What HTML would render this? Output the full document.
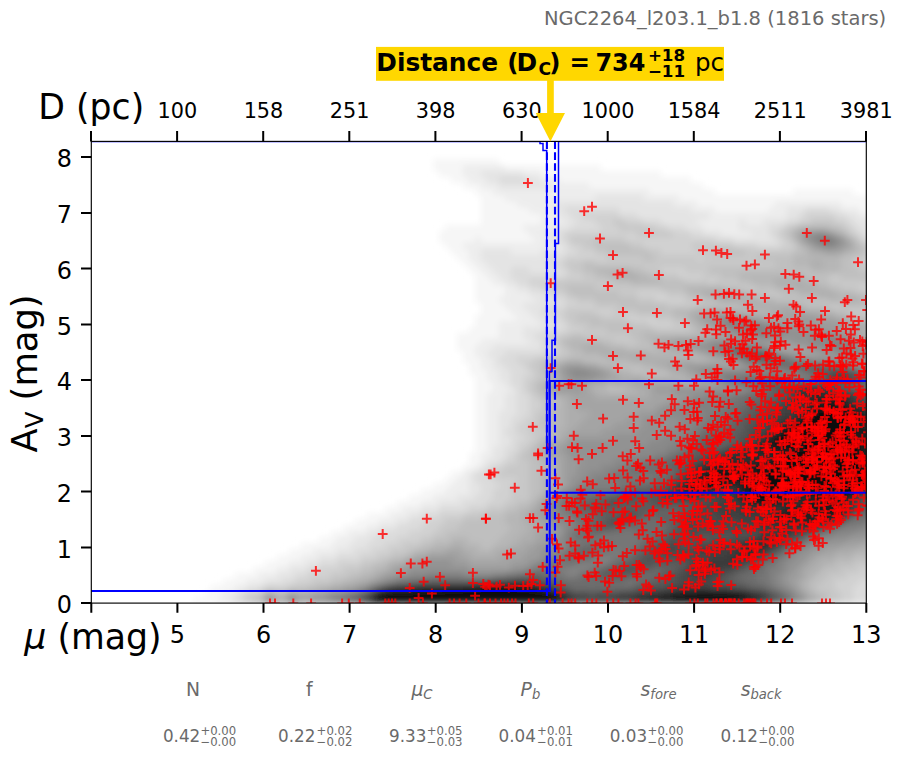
<!DOCTYPE html><html><head><meta charset="utf-8"><title>NGC2264 distance</title>
<style>html,body{margin:0;padding:0;background:#fff;overflow:hidden}svg{display:block}text{font-family:"DejaVu Sans","Liberation Sans",sans-serif;fill:#000}.g{fill:#6a6a6a}.i{font-style:italic}.b{font-weight:bold}</style></head><body>
<svg width="902" height="759" viewBox="0 0 902 759">
<rect width="902" height="759" fill="#fff"/>
<defs><clipPath id="ax"><rect x="91.3" y="141.4" width="775.0" height="461.70000000000005"/></clipPath></defs>
<defs><filter id="bl" x="-5%" y="-5%" width="110%" height="110%"><feGaussianBlur stdDeviation="3.2"/></filter></defs>
<g clip-path="url(#ax)"><g filter="url(#bl)" fill="none" stroke-width="6.4">
<path stroke="#f6f6f6" d="M433 162h66M433 168h30M505 168h96M439 174h24M541 174h120M451 180h18M559 180h132M463 186h18M589 186h114M475 192h18M649 192h66M793 192h60M481 198h24M679 198h192M481 204h36M697 204h78M841 204h30M481 210h48M715 210h54M859 210h12M481 216h60M481 222h60M445 228h78M439 234h90M439 240h36M481 240h54M445 246h18M451 252h18M457 258h12M463 264h12M469 270h12M475 276h12M475 282h18M475 288h30M475 294h30M475 300h24M481 306h24M481 312h30M475 318h42M475 324h24M469 330h30M457 336h42M457 342h24M457 348h18M463 354h12M463 360h18M469 366h12M469 372h18M475 378h12M475 384h18M475 390h18M475 396h12M475 402h12M475 408h12M475 414h12M475 420h12M475 426h12M475 432h12M475 438h12M475 444h12M475 450h12M469 456h12M469 462h12M463 468h12M451 474h12M445 480h12M433 486h18M421 492h24M409 498h24M397 504h24M385 510h18M367 516h24M355 522h24M343 528h24M331 534h18M319 540h18M301 546h30M289 552h24M277 558h24M265 564h24M253 570h24M235 576h24M223 582h24M211 588h24M205 594h18M193 600h24"/>
<path stroke="#ededed" d="M463 168h42M463 174h18M523 174h18M469 180h18M541 180h18M481 186h18M553 186h36M493 192h156M505 198h90M643 198h36M517 204h36M673 204h24M775 204h66M529 210h24M691 210h24M769 210h18M841 210h18M541 216h18M709 216h78M859 216h12M541 222h24M697 222h42M745 222h18M523 228h30M703 228h36M529 234h18M721 234h30M475 240h6M535 240h12M463 246h90M469 252h12M511 252h30M469 258h12M475 264h12M481 270h12M487 276h12M493 282h12M505 288h12M505 294h24M499 300h36M505 306h18M511 312h18M517 318h18M499 324h42M499 330h24M499 336h24M481 342h48M475 348h18M475 354h12M481 360h12M481 366h12M487 372h12M487 378h12M493 384h12M493 390h18M487 396h18M487 402h18M487 408h18M487 414h12M487 420h12M487 426h12M487 432h12M487 438h12M487 444h12M487 450h6M481 456h12M481 462h6M475 468h6M463 474h6M457 480h12M451 486h18M445 492h24M433 498h24M421 504h18M403 510h18M391 516h18M379 522h18M367 528h12M349 534h18M337 540h18M331 546h18M313 552h24M301 558h18M289 564h18M277 570h12M259 576h18M247 582h18M235 588h12M223 594h12M217 600h12"/>
<path stroke="#e4e4e4" d="M481 174h42M487 180h12M529 180h12M499 186h54M595 198h48M553 204h120M553 210h12M619 210h72M787 210h18M829 210h12M559 216h12M637 216h72M787 216h12M847 216h12M565 222h12M661 222h36M739 222h6M763 222h24M853 222h18M553 228h18M685 228h18M739 228h30M859 228h12M547 234h12M703 234h18M751 234h18M865 234h6M547 240h12M733 240h42M553 246h12M481 252h30M541 252h24M481 258h66M487 264h60M493 270h18M529 270h24M499 276h12M505 282h12M517 288h12M529 294h18M535 300h18M523 306h24M529 312h12M535 318h12M541 324h12M523 330h24M523 336h12M529 342h12M493 348h48M487 354h18M493 360h6M493 366h12M499 372h12M499 378h12M505 384h6M511 390h6M505 396h12M505 402h12M505 408h12M499 414h18M499 420h12M499 426h12M499 432h6M499 438h12M499 444h12M493 450h12M493 456h12M487 462h12M481 468h6M469 474h6M469 480h6M469 486h12M469 492h12M457 498h18M439 504h24M421 510h18M409 516h12M397 522h12M379 528h18M367 534h12M355 540h18M349 546h18M337 552h18M319 558h18M307 564h12M289 570h18M277 576h18M265 582h18M247 588h12M235 594h6M229 600h6"/>
<path stroke="#dbdbdb" d="M499 180h30M565 210h54M805 210h24M571 216h12M619 216h18M799 216h6M835 216h12M577 222h18M643 222h18M787 222h12M847 222h6M571 228h30M667 228h18M769 228h12M853 228h6M559 234h6M691 234h12M769 234h6M859 234h6M559 240h6M715 240h18M775 240h6M865 240h6M565 246h6M757 246h24M565 252h12M547 258h18M547 264h12M511 270h18M553 270h12M511 276h54M517 282h12M529 288h12M547 294h6M553 300h12M547 306h18M541 312h12M547 318h12M553 324h12M547 330h18M535 336h12M541 342h6M541 348h12M505 354h42M499 360h18M505 366h18M511 372h18M511 378h12M511 384h12M517 390h6M517 396h12M517 402h12M517 408h12M517 414h12M511 420h12M511 426h6M505 432h12M511 438h12M511 444h6M505 450h12M505 456h6M499 462h6M487 468h6M475 474h12M475 480h18M481 486h18M481 492h12M475 498h18M463 504h24M439 510h30M421 516h18M409 522h18M397 528h24M379 534h30M373 540h24M367 546h18M355 552h18M337 558h24M319 564h18M307 570h12M295 576h12M283 582h12M859 582h12M259 588h6M853 588h18M241 594h6M853 594h18M235 600h6M853 600h18"/>
<path stroke="#d1d1d1" d="M583 216h36M805 216h30M595 222h18M625 222h18M799 222h12M835 222h12M601 228h18M655 228h12M781 228h6M847 228h6M565 234h72M673 234h18M775 234h6M853 234h6M565 240h6M625 240h90M781 240h6M859 240h6M571 246h12M643 246h48M733 246h24M781 246h12M577 252h18M661 252h36M565 258h42M697 258h6M865 258h6M559 264h6M865 264h6M565 270h6M661 270h24M565 276h18M679 276h24M529 282h24M709 282h6M541 288h12M859 288h12M553 294h12M637 294h30M565 300h12M655 300h30M565 306h30M553 312h12M595 312h18M559 318h6M625 318h30M565 324h6M649 324h24M565 330h18M547 336h12M547 342h6M553 348h6M547 354h12M517 360h18M523 366h6M529 372h6M523 378h12M523 384h6M523 390h6M529 396h6M529 402h12M529 408h12M529 414h6M523 420h12M517 426h12M517 432h12M523 438h12M517 444h12M517 450h6M511 456h6M505 462h12M493 468h12M487 474h12M493 480h24M499 486h12M493 492h18M493 498h18M487 504h18M469 510h18M439 516h24M427 522h18M421 528h18M409 534h24M397 540h24M385 546h18M373 552h18M361 558h18M337 564h24M319 570h24M859 570h12M307 576h24M847 576h24M295 582h18M835 582h24M265 588h24M835 588h18M247 594h12M841 594h12M241 600h6M841 600h12"/>
<path stroke="#c8c8c8" d="M613 222h12M811 222h24M619 228h36M787 228h6M841 228h6M637 234h36M781 234h6M847 234h6M571 240h24M601 240h24M787 240h6M583 246h12M631 246h12M691 246h42M793 246h6M865 246h6M595 252h12M649 252h12M697 252h18M745 252h48M865 252h6M607 258h36M655 258h42M703 258h54M853 258h12M565 264h18M595 264h180M853 264h12M571 270h12M643 270h18M685 270h24M859 270h12M583 276h12M661 276h18M703 276h18M829 276h12M553 282h60M685 282h24M715 282h24M829 282h42M553 288h12M595 288h66M739 288h18M841 288h18M565 294h6M619 294h18M667 294h18M763 294h18M865 294h6M577 300h18M637 300h18M685 300h18M595 306h24M667 306h30M829 306h12M565 312h30M613 312h24M847 312h24M565 318h12M601 318h24M655 318h18M865 318h6M571 324h18M631 324h18M673 324h12M583 330h24M655 330h36M559 336h12M583 336h48M553 342h6M613 342h24M559 348h6M559 354h12M535 360h12M529 366h12M535 372h6M535 378h12M529 384h6M529 390h6M535 396h6M541 402h6M541 408h6M535 414h12M535 420h6M529 426h12M529 432h18M535 438h6M529 444h6M523 450h6M517 456h6M517 462h12M505 468h24M499 474h30M517 480h12M511 486h18M511 492h18M511 498h18M505 504h12M487 510h18M463 516h18M445 522h18M439 528h18M433 534h12M421 540h12M403 546h18M391 552h18M379 558h12M361 564h12M853 564h18M343 570h18M841 570h18M331 576h18M829 576h18M313 582h18M823 582h12M289 588h18M817 588h18M259 594h6M829 594h12M247 600h6M829 600h12"/>
<path stroke="#bfbfbf" d="M793 228h6M829 228h12M787 234h6M595 240h6M853 240h6M595 246h36M859 246h6M607 252h42M715 252h30M793 252h12M859 252h6M643 258h12M757 258h36M841 258h12M583 264h12M775 264h18M841 264h12M583 270h12M631 270h12M709 270h102M841 270h18M595 276h12M649 276h12M721 276h18M805 276h24M841 276h30M613 282h18M661 282h24M739 282h12M817 282h12M565 288h30M661 288h24M721 288h18M757 288h18M829 288h12M571 294h48M685 294h6M751 294h12M781 294h18M853 294h12M595 300h42M703 300h12M775 300h54M619 306h48M697 306h42M805 306h24M841 306h30M637 312h36M835 312h12M577 318h24M673 318h12M853 318h12M589 324h42M685 324h6M607 330h48M691 330h6M571 336h12M631 336h12M559 342h6M601 342h12M637 342h12M565 348h6M625 348h30M571 354h12M547 360h18M583 360h24M541 366h6M613 366h30M541 372h6M631 372h36M547 378h6M535 384h6M535 390h6M607 390h18M541 396h12M547 402h12M547 408h6M547 414h6M541 420h12M541 426h12M547 432h6M541 438h12M535 444h6M529 450h6M523 456h12M529 462h12M529 468h12M529 474h12M529 480h12M529 486h12M529 492h12M529 498h6M517 504h12M505 510h12M481 516h24M463 522h42M457 528h54M445 534h60M433 540h18M469 540h30M421 546h12M481 546h12M409 552h6M391 558h12M853 558h18M373 564h12M835 564h18M361 570h12M823 570h18M349 576h12M817 576h12M331 582h12M811 582h12M307 588h12M811 588h6M277 594h6M817 594h12M253 600h6M823 600h6"/>
<path stroke="#b6b6b6" d="M799 228h30M841 234h6M793 240h6M799 246h6M853 246h6M805 252h6M847 252h12M793 258h48M793 264h18M823 264h18M595 270h36M811 270h30M607 276h12M637 276h12M739 276h66M631 282h30M751 282h24M805 282h12M685 288h36M775 288h18M817 288h12M691 294h12M745 294h6M799 294h18M835 294h18M715 300h6M757 300h18M829 300h18M859 300h12M739 306h12M793 306h12M673 312h18M739 312h30M823 312h12M685 318h6M847 318h6M691 324h6M697 330h12M643 336h60M865 336h6M565 342h36M649 342h6M571 348h12M607 348h18M655 348h12M583 354h18M649 354h48M565 360h18M607 360h24M691 360h18M547 366h6M601 366h12M643 366h12M547 372h6M619 372h12M667 372h6M553 378h6M643 378h42M541 384h6M607 384h6M541 390h6M595 390h12M625 390h12M553 396h6M559 402h6M553 408h12M553 414h12M553 420h12M553 426h12M553 432h6M553 438h6M541 444h6M535 450h6M535 456h6M541 462h12M541 468h12M541 474h12M541 480h12M541 486h6M541 492h6M535 498h6M529 504h6M517 510h12M505 516h18M505 522h18M511 528h18M505 534h18M451 540h18M499 540h18M433 546h18M463 546h18M493 546h18M415 552h12M475 552h18M853 552h18M403 558h6M835 558h18M385 564h6M823 564h12M373 570h12M817 570h6M361 576h12M811 576h6M343 582h12M805 582h6M319 588h12M805 588h6M271 594h6M283 594h6M811 594h6M259 600h6M817 600h6"/>
<path stroke="#adadad" d="M793 234h6M835 234h6M847 240h6M805 246h6M811 252h12M841 252h6M811 264h12M619 276h18M775 282h30M793 288h24M703 294h12M733 294h12M817 294h18M721 300h36M847 300h12M751 306h42M691 312h18M721 312h18M769 312h12M805 312h18M691 318h6M763 318h12M835 318h12M697 324h6M853 324h18M709 330h6M859 330h12M703 336h12M859 336h6M655 342h6M583 348h24M667 348h6M781 348h6M601 354h48M697 354h6M631 360h60M709 360h12M553 366h6M595 366h6M655 366h12M553 372h6M613 372h6M673 372h12M619 378h24M685 378h12M547 384h6M589 384h18M613 384h18M679 384h18M547 390h6M589 390h6M637 390h12M559 396h12M595 396h54M565 402h6M565 408h12M565 414h24M565 420h18M565 426h12M559 432h12M559 438h6M547 444h6M541 450h6M541 456h12M553 462h6M553 468h6M553 474h6M553 480h6M547 486h12M547 492h6M541 498h6M535 504h6M529 510h6M523 516h6M523 522h12M529 528h12M523 534h12M517 540h18M451 546h12M511 546h12M859 546h12M427 552h18M463 552h12M493 552h12M835 552h18M409 558h6M469 558h30M817 558h18M391 564h12M811 564h12M385 570h6M805 570h12M373 576h6M805 576h6M355 582h12M799 582h6M331 588h12M799 588h6M265 594h6M295 594h18M805 594h6M277 600h6M811 600h6"/>
<path stroke="#a4a4a4" d="M799 234h6M799 240h6M847 246h6M823 252h18M715 294h18M709 312h12M781 312h24M697 318h6M751 318h12M775 318h24M817 318h18M703 324h6M841 324h12M715 330h6M841 330h18M715 336h12M853 336h6M661 342h12M865 342h6M673 348h12M775 348h6M787 348h18M703 354h6M799 354h18M721 360h6M559 366h6M583 366h12M667 366h18M721 366h18M865 366h6M607 372h6M685 372h6M559 378h6M607 378h12M697 378h6M553 384h12M583 384h6M631 384h48M697 384h18M583 390h6M649 390h6M571 396h24M649 396h24M571 402h96M577 408h78M589 414h48M583 420h42M577 426h36M571 432h30M565 438h6M553 444h12M547 450h12M553 456h12M559 462h6M559 468h6M559 474h6M559 480h6M559 486h6M553 492h6M535 510h6M529 516h12M535 522h12M541 528h12M535 534h12M535 540h12M865 540h6M523 546h12M841 546h18M445 552h18M505 552h24M823 552h12M415 558h12M457 558h12M499 558h24M811 558h6M403 564h6M469 564h42M805 564h6M391 570h6M799 570h6M379 576h6M799 576h6M367 582h6M793 582h6M343 588h12M289 594h6M313 594h12M283 600h6M301 600h6M805 600h6"/>
<path stroke="#9b9b9b" d="M829 234h6M841 240h6M811 246h6M841 246h6M703 318h12M745 318h6M799 318h18M709 324h6M775 324h66M721 330h6M823 330h18M727 336h12M847 336h6M673 342h36M751 342h42M859 342h6M685 348h12M769 348h6M805 348h6M865 348h6M709 354h6M787 354h12M817 354h18M727 360h6M859 360h6M565 366h18M685 366h36M739 366h6M559 372h6M601 372h6M691 372h6M565 378h6M595 378h12M703 378h6M565 384h18M715 384h6M553 390h30M655 390h18M673 396h18M667 402h12M655 408h6M637 414h18M625 420h18M613 426h30M601 432h36M571 438h42M565 444h6M559 450h6M565 456h6M565 462h18M565 468h12M565 474h12M565 480h6M565 486h6M547 498h6M541 504h6M541 510h6M541 516h6M547 522h6M553 528h6M547 534h12M547 540h6M847 540h18M535 546h12M823 546h18M529 552h12M811 552h12M427 558h30M523 558h18M805 558h6M409 564h12M451 564h18M511 564h18M799 564h6M397 570h12M469 570h42M793 570h6M385 576h12M787 576h12M373 582h6M787 582h6M355 588h6M793 588h6M325 594h6M799 594h6M271 600h6M295 600h6M307 600h6"/>
<path stroke="#929292" d="M805 234h12M823 234h6M805 240h6M817 246h6M835 246h6M715 318h6M733 318h12M715 324h6M763 324h12M727 330h6M787 330h36M739 336h18M781 336h30M835 336h12M709 342h42M793 342h18M853 342h6M697 348h12M763 348h6M811 348h12M859 348h6M715 354h6M781 354h6M835 354h6M733 360h6M811 360h30M847 360h12M865 360h6M745 366h12M859 366h6M565 372h6M589 372h12M697 372h6M571 378h24M709 378h6M721 384h6M673 390h72M691 396h12M679 402h6M661 408h12M655 414h12M643 420h36M643 426h36M637 432h30M613 438h48M571 444h78M565 450h72M571 456h54M583 462h30M577 468h24M577 474h12M571 480h12M571 486h6M559 492h6M553 498h6M547 504h6M547 510h6M547 516h6M553 522h6M559 528h6M559 534h6M853 534h18M553 540h6M829 540h18M547 546h6M811 546h12M541 552h12M799 552h12M541 558h6M793 558h12M421 564h30M529 564h6M787 564h12M409 570h60M511 570h12M787 570h6M397 576h12M781 576h6M379 582h6M781 582h6M361 588h6M787 588h6M331 594h12M793 594h6M313 600h12M799 600h6"/>
<path stroke="#898989" d="M817 234h6M811 240h6M835 240h6M823 246h12M721 318h12M721 324h6M757 324h6M733 330h6M775 330h12M757 336h24M811 336h24M811 342h18M841 342h12M709 348h6M757 348h6M823 348h12M853 348h6M721 354h6M775 354h6M841 354h30M739 360h6M799 360h12M841 360h6M757 366h6M853 366h6M571 372h18M703 372h84M865 372h6M715 378h6M727 384h6M745 390h6M703 396h6M685 402h6M673 408h12M667 414h36M679 420h18M679 426h12M667 432h18M661 438h18M649 444h24M637 450h30M625 456h30M613 462h18M601 468h18M589 474h18M583 480h12M577 486h6M565 492h6M553 504h6M553 510h6M553 516h6M559 522h12M565 528h6M859 528h12M835 534h18M559 540h6M817 540h12M553 546h12M805 546h6M553 552h6M793 552h6M547 558h6M787 558h6M535 564h6M781 564h6M523 570h6M571 570h6M781 570h6M409 576h18M463 576h30M775 576h6M385 582h6M775 582h6M781 588h6M343 594h6M265 600h6M325 600h6M793 600h6"/>
<path stroke="#808080" d="M817 240h6M829 240h6M727 324h30M739 330h36M829 342h12M715 348h6M751 348h6M835 348h18M793 360h6M763 366h6M847 366h6M787 372h12M721 378h6M787 378h24M733 384h6M751 390h6M709 396h24M691 402h36M685 408h36M703 414h12M697 420h12M691 426h12M685 432h12M679 438h12M673 444h12M667 450h12M655 456h12M631 462h12M619 468h6M607 474h6M595 480h18M583 486h36M571 492h6M559 498h6M559 510h6M559 516h12M571 522h6M865 522h6M571 528h6M841 528h18M565 534h6M823 534h12M565 540h6M811 540h6M565 546h6M799 546h6M559 552h6M613 552h6M787 552h6M553 558h6M595 558h18M781 558h6M541 564h6M577 564h30M775 564h6M529 570h6M559 570h12M577 570h12M769 570h12M427 576h36M493 576h12M565 576h12M769 576h6M391 582h6M769 582h6M367 588h6M775 588h6M349 594h6M787 594h6M289 600h6M331 600h6"/>
<path stroke="#767676" d="M823 240h6M721 348h12M745 348h6M727 354h6M769 354h6M745 360h6M787 360h6M769 366h12M841 366h6M799 372h6M859 372h6M727 378h18M751 378h12M775 378h12M811 378h6M739 384h6M757 390h6M865 390h6M733 396h12M727 402h12M721 408h12M715 414h12M709 420h12M703 426h12M697 432h6M691 438h6M685 444h6M679 450h6M667 456h6M643 462h12M625 468h6M613 474h48M613 480h42M619 486h12M577 492h36M565 498h6M559 504h6M565 510h6M571 516h6M577 522h6M847 522h18M577 528h6M625 528h6M835 528h6M571 534h6M601 534h36M817 534h6M571 540h72M805 540h6M571 546h12M613 546h24M565 552h6M601 552h12M619 552h12M559 558h6M589 558h6M613 558h12M775 558h6M547 564h30M607 564h6M763 564h12M535 570h24M589 570h6M763 570h6M505 576h12M553 576h12M577 576h6M757 576h12M397 582h12M625 582h12M757 582h12M769 588h6M355 594h6M781 594h6M337 600h6M787 600h6"/>
<path stroke="#6d6d6d" d="M733 348h12M733 354h6M751 360h6M781 360h6M781 366h18M823 366h18M805 372h6M745 378h6M763 378h12M745 384h12M763 390h6M859 390h6M745 396h18M739 402h12M733 408h12M727 414h12M721 420h12M715 426h12M703 432h12M697 438h6M685 450h6M673 456h6M655 462h12M631 468h36M661 474h12M655 480h12M631 486h18M613 492h6M571 498h24M565 504h12M571 510h6M577 516h18M649 516h6M853 516h18M583 522h6M637 522h24M583 528h6M619 528h6M631 528h36M829 528h6M577 534h24M637 534h24M643 540h12M583 546h30M637 546h6M793 546h6M571 552h6M595 552h6M631 552h6M781 552h6M565 558h24M625 558h6M613 564h6M595 570h6M655 570h6M751 570h12M517 576h12M541 576h12M583 576h12M637 576h18M739 576h18M409 582h12M559 582h66M637 582h6M745 582h12M373 588h6M571 588h60M763 588h6M343 600h6"/>
<path stroke="#646464" d="M739 354h6M763 354h6M757 360h12M775 360h6M799 366h24M811 372h6M853 372h6M817 378h6M865 378h6M757 384h6M799 384h6M853 384h18M769 390h6M853 390h6M763 396h12M751 402h12M745 408h6M739 414h6M733 420h6M727 426h12M715 432h18M703 438h6M721 438h12M691 444h12M715 444h12M691 450h6M679 456h12M667 462h12M667 468h12M673 474h6M667 480h6M649 486h12M619 492h12M595 498h12M577 504h12M577 510h12M613 510h6M655 510h24M865 510h6M595 516h12M643 516h6M655 516h24M589 522h12M631 522h6M661 522h12M841 522h6M589 528h6M613 528h6M667 528h6M661 534h6M811 534h6M655 540h6M799 540h6M643 546h6M787 546h6M577 552h18M637 552h6M631 558h6M769 558h6M619 564h6M757 564h6M601 570h6M643 570h12M661 570h12M745 570h6M529 576h12M595 576h6M625 576h12M655 576h6M733 576h6M421 582h54M553 582h6M643 582h12M733 582h12M565 588h6M631 588h6M751 588h12M361 594h6M775 594h6M349 600h6M781 600h6"/>
<path stroke="#5b5b5b" d="M745 354h18M769 360h6M817 372h12M847 372h6M823 378h6M859 378h6M763 384h36M805 384h18M835 384h18M775 390h6M841 390h12M775 396h12M763 402h12M751 408h12M745 414h12M739 420h12M739 426h6M733 432h12M709 438h12M733 438h6M703 444h12M727 444h12M697 450h24M691 456h12M679 462h12M679 468h6M661 486h6M631 492h24M607 498h12M637 498h12M589 504h18M619 504h36M667 504h24M865 504h6M589 510h24M619 510h36M679 510h12M859 510h6M607 516h12M637 516h6M601 522h6M673 522h6M595 528h18M673 528h6M823 528h6M667 534h6M805 534h6M661 540h6M703 540h6M793 540h6M649 546h6M781 546h6M643 552h6M775 552h6M637 558h6M763 558h6M625 564h12M655 564h30M751 564h6M607 570h12M637 570h6M673 570h6M739 570h6M601 576h24M661 576h6M727 576h6M475 582h12M541 582h12M655 582h12M721 582h12M379 588h6M559 588h6M637 588h12M745 588h6M589 594h6M769 594h6M355 600h6M775 600h6"/>
<path stroke="#525252" d="M829 372h18M853 378h6M823 384h12M781 390h6M835 390h6M787 396h6M859 396h12M775 402h6M763 408h12M757 414h12M751 420h12M745 426h12M745 432h6M739 438h12M739 444h6M721 450h6M703 456h6M691 462h6M685 468h6M679 474h6M673 480h6M667 486h6M655 492h12M619 498h18M649 498h12M703 498h6M859 498h12M607 504h12M655 504h12M691 504h12M859 504h6M691 510h6M619 516h18M679 516h12M847 516h6M607 522h24M679 522h6M835 522h6M679 528h6M715 528h6M673 534h18M697 534h60M799 534h6M667 540h36M709 540h24M787 540h6M655 546h12M679 546h18M649 552h12M769 552h6M643 558h42M637 564h18M685 564h6M745 564h6M619 570h18M679 570h6M733 570h6M667 576h12M721 576h6M487 582h6M535 582h6M667 582h12M715 582h6M553 588h6M649 588h18M733 588h12M367 594h6M571 594h18M595 594h24"/>
<path stroke="#494949" d="M829 378h6M847 378h6M787 390h6M781 402h6M859 402h12M775 408h6M769 414h12M763 420h6M757 426h12M751 432h12M751 438h6M745 444h6M727 450h6M709 456h6M697 462h6M691 468h6M685 474h6M679 480h6M865 492h6M661 498h6M697 498h6M709 498h12M703 504h12M697 510h18M853 510h6M691 516h30M685 522h54M685 528h30M721 528h36M817 528h6M691 534h6M757 534h6M793 534h6M733 540h18M667 546h12M697 546h18M775 546h6M661 552h36M685 558h24M757 558h6M691 564h6M739 564h6M685 570h6M721 570h12M679 576h12M709 576h12M493 582h18M523 582h12M679 582h36M385 588h6M667 588h12M709 588h24M619 594h18M763 594h6M361 600h6M769 600h6"/>
<path stroke="#404040" d="M835 378h12M793 390h6M829 390h6M793 396h6M853 396h6M787 402h6M853 402h6M781 408h12M781 414h12M769 420h12M769 426h6M763 432h6M757 438h6M751 444h6M733 450h6M715 456h6M703 462h6M673 486h6M667 492h6M715 492h18M667 498h30M721 498h12M853 498h6M715 504h24M853 504h6M715 510h24M721 516h36M739 522h18M757 528h18M811 528h6M763 534h12M787 534h6M751 540h6M781 540h6M715 546h24M697 552h36M763 552h6M709 558h18M751 558h6M697 564h12M733 564h6M691 570h6M715 570h6M691 576h18M511 582h12M391 588h6M547 588h6M679 588h30M565 594h6M637 594h12M757 594h6M577 600h36M763 600h6"/>
<path stroke="#373737" d="M823 390h6M799 396h12M847 396h6M793 402h12M847 402h6M793 408h12M859 408h12M793 414h6M781 420h12M775 426h6M769 432h6M763 438h6M739 450h6M721 456h6M709 462h6M697 468h6M691 474h6M685 480h6M679 486h6M673 492h6M709 492h6M733 492h6M859 492h6M733 498h6M739 504h6M787 504h12M847 504h6M739 510h42M847 510h6M757 516h12M841 516h6M757 522h6M829 522h6M775 528h36M775 534h12M757 540h6M775 540h6M739 546h6M769 546h6M733 552h6M757 552h6M727 558h24M709 564h24M697 570h18M397 588h18M541 588h6M559 594h6M649 594h12M751 594h6M571 600h6M613 600h18"/>
<path stroke="#2e2e2e" d="M799 390h24M811 396h36M805 402h6M805 408h6M853 408h6M799 414h6M865 414h6M793 420h6M781 426h6M775 432h6M757 444h6M745 450h12M727 456h48M715 462h42M703 468h12M697 474h6M691 480h6M727 486h12M679 492h6M703 492h6M799 498h12M847 498h6M745 504h12M775 504h12M799 504h6M841 504h6M781 510h6M769 516h6M763 522h42M823 522h6M763 540h12M745 546h24M739 552h18M415 588h30M535 588h6M373 594h6M661 594h12M745 594h6M367 600h6M565 600h6M631 600h6M757 600h6"/>
<path stroke="#242424" d="M811 402h12M835 402h12M811 408h6M847 408h6M805 414h6M865 420h6M859 426h12M769 438h6M763 444h6M757 450h36M775 456h6M757 462h12M715 468h24M703 474h6M685 486h6M721 486h6M739 486h6M865 486h6M685 492h18M739 492h6M739 498h6M793 498h6M811 498h6M757 504h18M805 504h6M835 504h6M787 510h12M835 510h12M775 516h6M799 516h18M835 516h6M805 522h18M445 588h18M529 588h6M553 594h6M673 594h12M739 594h6M637 600h12M751 600h6"/>
<path stroke="#1b1b1b" d="M823 402h12M817 408h12M835 408h12M811 414h6M859 414h6M799 420h6M859 420h6M787 426h6M853 426h6M847 432h24M853 438h18M769 444h6M859 444h12M793 450h6M859 450h12M781 456h6M859 456h12M769 462h6M865 462h6M739 468h30M865 468h6M709 474h6M745 474h12M697 480h6M733 480h24M691 486h6M715 486h6M745 486h6M745 492h6M853 492h6M745 498h6M787 498h6M817 498h6M841 498h6M811 504h24M799 510h36M781 516h18M817 516h18M463 588h18M517 588h12M685 594h12M727 594h12M559 600h6M649 600h12M745 600h6"/>
<path stroke="#121212" d="M829 408h6M853 414h6M781 432h6M775 438h6M847 438h6M775 444h6M799 444h6M799 450h6M787 456h6M775 462h6M859 462h6M769 468h6M859 468h6M715 474h30M757 474h12M865 474h6M703 480h6M721 480h12M757 480h6M865 480h6M697 486h18M751 486h6M859 486h6M811 492h18M751 498h6M781 498h6M823 498h18M481 588h36M379 594h6M547 594h6M697 594h30M661 600h12M739 600h6"/>
<path stroke="#090909" d="M817 414h36M805 420h54M793 426h60M787 432h60M781 438h66M781 444h18M805 444h54M805 450h54M793 456h66M781 462h78M775 468h84M769 474h96M709 480h12M763 480h102M757 486h102M751 492h60M829 492h24M757 498h24M385 594h162M373 600h186M673 600h66"/>
</g></g>
<g clip-path="url(#ax)" stroke="#ff0000" stroke-opacity="0.8" stroke-width="2.0" fill="none">
<path d="M579.0 555.7h9.8m-4.9 -4.9v9.8M750.0 264.4h9.8m-4.9 -4.9v9.8M795.2 312.0h9.8m-4.9 -4.9v9.8M764.9 377.3h9.8m-4.9 -4.9v9.8M809.1 540.1h9.8m-4.9 -4.9v9.8M810.3 468.8h9.8m-4.9 -4.9v9.8M766.1 327.7h9.8m-4.9 -4.9v9.8M806.5 414.9h9.8m-4.9 -4.9v9.8M697.8 523.5h9.8m-4.9 -4.9v9.8M707.8 526.7h9.8m-4.9 -4.9v9.8M668.3 513.3h9.8m-4.9 -4.9v9.8M525.0 518.1h9.8m-4.9 -4.9v9.8M675.2 441.1h9.8m-4.9 -4.9v9.8M620.1 511.5h9.8m-4.9 -4.9v9.8M821.5 459.1h9.8m-4.9 -4.9v9.8M716.6 603.4h9.8m-4.9 -4.9v9.8M708.2 424.8h9.8m-4.9 -4.9v9.8M700.6 568.4h9.8m-4.9 -4.9v9.8M795.0 396.4h9.8m-4.9 -4.9v9.8M696.3 449.6h9.8m-4.9 -4.9v9.8M833.1 507.3h9.8m-4.9 -4.9v9.8M794.6 484.1h9.8m-4.9 -4.9v9.8M635.1 480.6h9.8m-4.9 -4.9v9.8M691.6 558.8h9.8m-4.9 -4.9v9.8M491.7 586.6h9.8m-4.9 -4.9v9.8M775.8 465.9h9.8m-4.9 -4.9v9.8M770.6 361.0h9.8m-4.9 -4.9v9.8M794.7 495.2h9.8m-4.9 -4.9v9.8M757.7 507.1h9.8m-4.9 -4.9v9.8M791.0 397.6h9.8m-4.9 -4.9v9.8M793.5 447.0h9.8m-4.9 -4.9v9.8M757.9 559.4h9.8m-4.9 -4.9v9.8M818.2 364.7h9.8m-4.9 -4.9v9.8M770.6 474.4h9.8m-4.9 -4.9v9.8M444.7 603.4h9.8m-4.9 -4.9v9.8M799.0 508.4h9.8m-4.9 -4.9v9.8M788.8 523.5h9.8m-4.9 -4.9v9.8M741.8 506.8h9.8m-4.9 -4.9v9.8M756.3 603.4h9.8m-4.9 -4.9v9.8M817.8 496.6h9.8m-4.9 -4.9v9.8M567.1 502.5h9.8m-4.9 -4.9v9.8M786.4 515.9h9.8m-4.9 -4.9v9.8M841.6 353.6h9.8m-4.9 -4.9v9.8M842.2 474.8h9.8m-4.9 -4.9v9.8M715.3 401.8h9.8m-4.9 -4.9v9.8M737.7 452.1h9.8m-4.9 -4.9v9.8M770.3 357.9h9.8m-4.9 -4.9v9.8M810.2 365.5h9.8m-4.9 -4.9v9.8M833.3 481.8h9.8m-4.9 -4.9v9.8M306.2 603.4h9.8m-4.9 -4.9v9.8M810.8 484.8h9.8m-4.9 -4.9v9.8M573.7 459.3h9.8m-4.9 -4.9v9.8M805.2 471.9h9.8m-4.9 -4.9v9.8M564.6 555.8h9.8m-4.9 -4.9v9.8M647.7 541.6h9.8m-4.9 -4.9v9.8M732.2 532.9h9.8m-4.9 -4.9v9.8M551.6 498.1h9.8m-4.9 -4.9v9.8M723.1 491.5h9.8m-4.9 -4.9v9.8M711.2 487.4h9.8m-4.9 -4.9v9.8M822.7 410.4h9.8m-4.9 -4.9v9.8M587.2 603.4h9.8m-4.9 -4.9v9.8M852.2 403.5h9.8m-4.9 -4.9v9.8M404.8 587.9h9.8m-4.9 -4.9v9.8M587.8 514.2h9.8m-4.9 -4.9v9.8M772.0 316.6h9.8m-4.9 -4.9v9.8M858.0 406.0h9.8m-4.9 -4.9v9.8M729.6 603.4h9.8m-4.9 -4.9v9.8M675.4 559.7h9.8m-4.9 -4.9v9.8M817.0 430.9h9.8m-4.9 -4.9v9.8M765.7 368.3h9.8m-4.9 -4.9v9.8M727.4 463.8h9.8m-4.9 -4.9v9.8M769.2 326.8h9.8m-4.9 -4.9v9.8M808.8 281.0h9.8m-4.9 -4.9v9.8M495.1 584.8h9.8m-4.9 -4.9v9.8M735.0 348.2h9.8m-4.9 -4.9v9.8M840.7 417.4h9.8m-4.9 -4.9v9.8M781.3 544.2h9.8m-4.9 -4.9v9.8M764.3 485.3h9.8m-4.9 -4.9v9.8M564.2 505.9h9.8m-4.9 -4.9v9.8M579.3 211.2h9.8m-4.9 -4.9v9.8M784.8 392.4h9.8m-4.9 -4.9v9.8M716.5 252.9h9.8m-4.9 -4.9v9.8M614.8 522.3h9.8m-4.9 -4.9v9.8M564.6 521.0h9.8m-4.9 -4.9v9.8M752.9 487.9h9.8m-4.9 -4.9v9.8M827.9 482.9h9.8m-4.9 -4.9v9.8M797.1 531.2h9.8m-4.9 -4.9v9.8M827.0 453.9h9.8m-4.9 -4.9v9.8M853.8 444.4h9.8m-4.9 -4.9v9.8M837.5 409.9h9.8m-4.9 -4.9v9.8M657.1 535.5h9.8m-4.9 -4.9v9.8M720.2 603.4h9.8m-4.9 -4.9v9.8M845.6 348.0h9.8m-4.9 -4.9v9.8M774.5 537.9h9.8m-4.9 -4.9v9.8M835.3 445.2h9.8m-4.9 -4.9v9.8M687.6 460.9h9.8m-4.9 -4.9v9.8M763.4 465.4h9.8m-4.9 -4.9v9.8M802.2 505.6h9.8m-4.9 -4.9v9.8M855.1 340.0h9.8m-4.9 -4.9v9.8M762.1 421.0h9.8m-4.9 -4.9v9.8M678.7 538.5h9.8m-4.9 -4.9v9.8M634.3 565.0h9.8m-4.9 -4.9v9.8M844.0 340.7h9.8m-4.9 -4.9v9.8M757.7 488.1h9.8m-4.9 -4.9v9.8M709.5 482.7h9.8m-4.9 -4.9v9.8M603.0 286.1h9.8m-4.9 -4.9v9.8M820.7 429.3h9.8m-4.9 -4.9v9.8M740.5 340.8h9.8m-4.9 -4.9v9.8M722.3 254.0h9.8m-4.9 -4.9v9.8M383.8 603.4h9.8m-4.9 -4.9v9.8M735.1 319.5h9.8m-4.9 -4.9v9.8M836.2 457.4h9.8m-4.9 -4.9v9.8M808.9 531.2h9.8m-4.9 -4.9v9.8M582.3 603.4h9.8m-4.9 -4.9v9.8M633.1 463.6h9.8m-4.9 -4.9v9.8M842.5 379.2h9.8m-4.9 -4.9v9.8M774.2 396.1h9.8m-4.9 -4.9v9.8M754.7 437.2h9.8m-4.9 -4.9v9.8M708.2 463.5h9.8m-4.9 -4.9v9.8M581.3 528.5h9.8m-4.9 -4.9v9.8M685.6 493.8h9.8m-4.9 -4.9v9.8M721.9 312.4h9.8m-4.9 -4.9v9.8M860.2 471.9h9.8m-4.9 -4.9v9.8M620.9 492.5h9.8m-4.9 -4.9v9.8M730.8 476.5h9.8m-4.9 -4.9v9.8M801.4 401.6h9.8m-4.9 -4.9v9.8M666.4 484.9h9.8m-4.9 -4.9v9.8M749.8 527.1h9.8m-4.9 -4.9v9.8M788.8 387.0h9.8m-4.9 -4.9v9.8M675.2 463.3h9.8m-4.9 -4.9v9.8M754.4 489.0h9.8m-4.9 -4.9v9.8M831.8 330.9h9.8m-4.9 -4.9v9.8M702.3 329.2h9.8m-4.9 -4.9v9.8M722.9 418.7h9.8m-4.9 -4.9v9.8M694.0 584.4h9.8m-4.9 -4.9v9.8M265.1 603.4h9.8m-4.9 -4.9v9.8M841.4 364.6h9.8m-4.9 -4.9v9.8M790.5 472.3h9.8m-4.9 -4.9v9.8M552.1 544.4h9.8m-4.9 -4.9v9.8M696.4 581.4h9.8m-4.9 -4.9v9.8M806.3 426.4h9.8m-4.9 -4.9v9.8M752.5 546.4h9.8m-4.9 -4.9v9.8M825.4 380.1h9.8m-4.9 -4.9v9.8M850.7 492.5h9.8m-4.9 -4.9v9.8M656.3 521.9h9.8m-4.9 -4.9v9.8M854.6 393.8h9.8m-4.9 -4.9v9.8M583.7 577.0h9.8m-4.9 -4.9v9.8M709.8 506.8h9.8m-4.9 -4.9v9.8M762.5 449.6h9.8m-4.9 -4.9v9.8M841.6 464.3h9.8m-4.9 -4.9v9.8M650.2 603.4h9.8m-4.9 -4.9v9.8M835.1 399.4h9.8m-4.9 -4.9v9.8M693.7 575.1h9.8m-4.9 -4.9v9.8M702.6 513.6h9.8m-4.9 -4.9v9.8M782.8 423.3h9.8m-4.9 -4.9v9.8M786.8 438.5h9.8m-4.9 -4.9v9.8M713.1 464.5h9.8m-4.9 -4.9v9.8M805.5 473.0h9.8m-4.9 -4.9v9.8M510.1 585.7h9.8m-4.9 -4.9v9.8M750.4 603.4h9.8m-4.9 -4.9v9.8M677.7 527.1h9.8m-4.9 -4.9v9.8M819.9 240.7h9.8m-4.9 -4.9v9.8M810.2 539.5h9.8m-4.9 -4.9v9.8M856.6 489.0h9.8m-4.9 -4.9v9.8M826.2 478.1h9.8m-4.9 -4.9v9.8M573.4 557.2h9.8m-4.9 -4.9v9.8M848.0 437.5h9.8m-4.9 -4.9v9.8M435.0 576.8h9.8m-4.9 -4.9v9.8M572.0 404.0h9.8m-4.9 -4.9v9.8M731.9 559.3h9.8m-4.9 -4.9v9.8M844.5 387.2h9.8m-4.9 -4.9v9.8M777.9 485.4h9.8m-4.9 -4.9v9.8M685.6 499.1h9.8m-4.9 -4.9v9.8M831.1 399.5h9.8m-4.9 -4.9v9.8M744.8 401.9h9.8m-4.9 -4.9v9.8M748.1 334.4h9.8m-4.9 -4.9v9.8M801.2 456.7h9.8m-4.9 -4.9v9.8M743.1 603.4h9.8m-4.9 -4.9v9.8M826.1 382.9h9.8m-4.9 -4.9v9.8M790.4 548.6h9.8m-4.9 -4.9v9.8M547.2 538.8h9.8m-4.9 -4.9v9.8M726.8 452.1h9.8m-4.9 -4.9v9.8M828.9 411.4h9.8m-4.9 -4.9v9.8M691.4 566.4h9.8m-4.9 -4.9v9.8M697.8 564.9h9.8m-4.9 -4.9v9.8M490.6 603.4h9.8m-4.9 -4.9v9.8M792.2 488.7h9.8m-4.9 -4.9v9.8M682.9 350.6h9.8m-4.9 -4.9v9.8M685.3 570.2h9.8m-4.9 -4.9v9.8M853.6 492.3h9.8m-4.9 -4.9v9.8M745.4 603.4h9.8m-4.9 -4.9v9.8M716.2 422.1h9.8m-4.9 -4.9v9.8M751.4 391.1h9.8m-4.9 -4.9v9.8M787.1 408.7h9.8m-4.9 -4.9v9.8"/>
<path d="M830.7 435.6h9.8m-4.9 -4.9v9.8M635.8 567.2h9.8m-4.9 -4.9v9.8M555.8 592.5h9.8m-4.9 -4.9v9.8M660.5 579.1h9.8m-4.9 -4.9v9.8M794.3 437.8h9.8m-4.9 -4.9v9.8M807.2 459.9h9.8m-4.9 -4.9v9.8M829.7 510.1h9.8m-4.9 -4.9v9.8M723.2 490.3h9.8m-4.9 -4.9v9.8M810.6 376.8h9.8m-4.9 -4.9v9.8M832.2 523.9h9.8m-4.9 -4.9v9.8M712.6 461.1h9.8m-4.9 -4.9v9.8M628.8 427.9h9.8m-4.9 -4.9v9.8M754.0 486.4h9.8m-4.9 -4.9v9.8M790.8 530.4h9.8m-4.9 -4.9v9.8M739.0 603.4h9.8m-4.9 -4.9v9.8M660.2 430.8h9.8m-4.9 -4.9v9.8M817.3 456.8h9.8m-4.9 -4.9v9.8M676.8 480.9h9.8m-4.9 -4.9v9.8M743.0 304.8h9.8m-4.9 -4.9v9.8M846.9 470.4h9.8m-4.9 -4.9v9.8M738.3 464.5h9.8m-4.9 -4.9v9.8M523.9 603.4h9.8m-4.9 -4.9v9.8M718.8 476.5h9.8m-4.9 -4.9v9.8M708.3 545.2h9.8m-4.9 -4.9v9.8M646.1 590.4h9.8m-4.9 -4.9v9.8M751.5 477.5h9.8m-4.9 -4.9v9.8M377.8 534.0h9.8m-4.9 -4.9v9.8M535.0 585.2h9.8m-4.9 -4.9v9.8M771.8 414.6h9.8m-4.9 -4.9v9.8M677.8 498.1h9.8m-4.9 -4.9v9.8M660.7 549.0h9.8m-4.9 -4.9v9.8M709.5 452.1h9.8m-4.9 -4.9v9.8M741.3 320.6h9.8m-4.9 -4.9v9.8M510.6 603.4h9.8m-4.9 -4.9v9.8M545.8 283.2h9.8m-4.9 -4.9v9.8M791.7 404.9h9.8m-4.9 -4.9v9.8M761.9 509.1h9.8m-4.9 -4.9v9.8M354.9 603.4h9.8m-4.9 -4.9v9.8M834.3 522.2h9.8m-4.9 -4.9v9.8M833.9 436.6h9.8m-4.9 -4.9v9.8M773.1 407.6h9.8m-4.9 -4.9v9.8M686.8 473.2h9.8m-4.9 -4.9v9.8M771.4 491.6h9.8m-4.9 -4.9v9.8M818.9 504.9h9.8m-4.9 -4.9v9.8M719.5 542.8h9.8m-4.9 -4.9v9.8M628.8 416.8h9.8m-4.9 -4.9v9.8M614.5 571.1h9.8m-4.9 -4.9v9.8M762.3 443.8h9.8m-4.9 -4.9v9.8M797.7 436.1h9.8m-4.9 -4.9v9.8M673.5 345.9h9.8m-4.9 -4.9v9.8M685.0 465.8h9.8m-4.9 -4.9v9.8M528.3 603.4h9.8m-4.9 -4.9v9.8M730.2 413.4h9.8m-4.9 -4.9v9.8M813.9 446.6h9.8m-4.9 -4.9v9.8M810.2 430.5h9.8m-4.9 -4.9v9.8M712.7 586.1h9.8m-4.9 -4.9v9.8M835.2 429.4h9.8m-4.9 -4.9v9.8M746.6 454.6h9.8m-4.9 -4.9v9.8M786.8 461.0h9.8m-4.9 -4.9v9.8M709.5 477.3h9.8m-4.9 -4.9v9.8M832.1 377.6h9.8m-4.9 -4.9v9.8M854.2 462.1h9.8m-4.9 -4.9v9.8M700.4 603.4h9.8m-4.9 -4.9v9.8M747.1 353.4h9.8m-4.9 -4.9v9.8M850.2 356.0h9.8m-4.9 -4.9v9.8M793.5 321.6h9.8m-4.9 -4.9v9.8M797.4 522.4h9.8m-4.9 -4.9v9.8M644.3 515.6h9.8m-4.9 -4.9v9.8M762.1 603.4h9.8m-4.9 -4.9v9.8M712.4 369.0h9.8m-4.9 -4.9v9.8M485.1 603.4h9.8m-4.9 -4.9v9.8M825.0 467.9h9.8m-4.9 -4.9v9.8M762.2 413.5h9.8m-4.9 -4.9v9.8M831.9 481.0h9.8m-4.9 -4.9v9.8M553.2 484.4h9.8m-4.9 -4.9v9.8M688.2 510.9h9.8m-4.9 -4.9v9.8M555.1 560.2h9.8m-4.9 -4.9v9.8M845.3 408.7h9.8m-4.9 -4.9v9.8M758.8 473.6h9.8m-4.9 -4.9v9.8M854.9 463.6h9.8m-4.9 -4.9v9.8M683.7 585.6h9.8m-4.9 -4.9v9.8M724.1 359.1h9.8m-4.9 -4.9v9.8M829.3 366.3h9.8m-4.9 -4.9v9.8M692.5 420.5h9.8m-4.9 -4.9v9.8M726.3 585.1h9.8m-4.9 -4.9v9.8M740.1 483.4h9.8m-4.9 -4.9v9.8M775.1 345.7h9.8m-4.9 -4.9v9.8M705.1 521.1h9.8m-4.9 -4.9v9.8M718.3 480.3h9.8m-4.9 -4.9v9.8M582.3 481.5h9.8m-4.9 -4.9v9.8M666.2 410.2h9.8m-4.9 -4.9v9.8M587.1 206.7h9.8m-4.9 -4.9v9.8M748.8 366.8h9.8m-4.9 -4.9v9.8M761.4 333.2h9.8m-4.9 -4.9v9.8M848.2 365.6h9.8m-4.9 -4.9v9.8M807.1 453.7h9.8m-4.9 -4.9v9.8M587.9 484.2h9.8m-4.9 -4.9v9.8M681.2 523.2h9.8m-4.9 -4.9v9.8M862.4 473.7h9.8m-4.9 -4.9v9.8M483.6 584.6h9.8m-4.9 -4.9v9.8M789.3 524.8h9.8m-4.9 -4.9v9.8M579.9 505.4h9.8m-4.9 -4.9v9.8M854.1 375.0h9.8m-4.9 -4.9v9.8M812.4 430.8h9.8m-4.9 -4.9v9.8M669.7 492.7h9.8m-4.9 -4.9v9.8M617.7 272.8h9.8m-4.9 -4.9v9.8M552.7 566.8h9.8m-4.9 -4.9v9.8M673.7 544.2h9.8m-4.9 -4.9v9.8M857.7 461.9h9.8m-4.9 -4.9v9.8M777.3 533.5h9.8m-4.9 -4.9v9.8M782.5 323.1h9.8m-4.9 -4.9v9.8M833.8 484.5h9.8m-4.9 -4.9v9.8M793.5 512.3h9.8m-4.9 -4.9v9.8M844.8 416.6h9.8m-4.9 -4.9v9.8M838.7 432.9h9.8m-4.9 -4.9v9.8M791.3 306.5h9.8m-4.9 -4.9v9.8M807.0 297.9h9.8m-4.9 -4.9v9.8M638.8 478.3h9.8m-4.9 -4.9v9.8M683.6 554.2h9.8m-4.9 -4.9v9.8M781.4 486.2h9.8m-4.9 -4.9v9.8M726.0 361.5h9.8m-4.9 -4.9v9.8M828.4 393.3h9.8m-4.9 -4.9v9.8M595.1 238.5h9.8m-4.9 -4.9v9.8M625.5 486.6h9.8m-4.9 -4.9v9.8M727.8 476.9h9.8m-4.9 -4.9v9.8M745.7 372.0h9.8m-4.9 -4.9v9.8M764.8 468.0h9.8m-4.9 -4.9v9.8M481.1 518.7h9.8m-4.9 -4.9v9.8M851.3 491.6h9.8m-4.9 -4.9v9.8M801.9 507.5h9.8m-4.9 -4.9v9.8M843.3 514.4h9.8m-4.9 -4.9v9.8M523.0 183.0h9.8m-4.9 -4.9v9.8M862.1 505.6h9.8m-4.9 -4.9v9.8M809.7 469.4h9.8m-4.9 -4.9v9.8M746.7 294.5h9.8m-4.9 -4.9v9.8M749.2 486.5h9.8m-4.9 -4.9v9.8M764.0 318.0h9.8m-4.9 -4.9v9.8M737.0 353.4h9.8m-4.9 -4.9v9.8M706.9 448.6h9.8m-4.9 -4.9v9.8M750.4 498.0h9.8m-4.9 -4.9v9.8M855.9 395.4h9.8m-4.9 -4.9v9.8M689.1 494.7h9.8m-4.9 -4.9v9.8M509.9 487.7h9.8m-4.9 -4.9v9.8M712.2 319.6h9.8m-4.9 -4.9v9.8M817.4 438.0h9.8m-4.9 -4.9v9.8M864.1 403.9h9.8m-4.9 -4.9v9.8M604.3 582.7h9.8m-4.9 -4.9v9.8M613.6 503.0h9.8m-4.9 -4.9v9.8M651.8 435.0h9.8m-4.9 -4.9v9.8M599.0 540.5h9.8m-4.9 -4.9v9.8M786.9 432.8h9.8m-4.9 -4.9v9.8M779.2 485.3h9.8m-4.9 -4.9v9.8M839.9 424.2h9.8m-4.9 -4.9v9.8M688.7 412.0h9.8m-4.9 -4.9v9.8M848.2 499.8h9.8m-4.9 -4.9v9.8M814.5 517.6h9.8m-4.9 -4.9v9.8M741.9 557.0h9.8m-4.9 -4.9v9.8M737.0 474.5h9.8m-4.9 -4.9v9.8M709.5 568.4h9.8m-4.9 -4.9v9.8M691.8 519.1h9.8m-4.9 -4.9v9.8M723.7 351.0h9.8m-4.9 -4.9v9.8M842.3 467.3h9.8m-4.9 -4.9v9.8M662.5 560.7h9.8m-4.9 -4.9v9.8M736.1 469.7h9.8m-4.9 -4.9v9.8M759.5 522.8h9.8m-4.9 -4.9v9.8M809.5 451.6h9.8m-4.9 -4.9v9.8M771.4 429.2h9.8m-4.9 -4.9v9.8M839.0 476.6h9.8m-4.9 -4.9v9.8M468.0 572.8h9.8m-4.9 -4.9v9.8M719.0 293.9h9.8m-4.9 -4.9v9.8M692.8 299.9h9.8m-4.9 -4.9v9.8M662.1 494.5h9.8m-4.9 -4.9v9.8M813.7 545.8h9.8m-4.9 -4.9v9.8M774.3 394.4h9.8m-4.9 -4.9v9.8M835.3 517.4h9.8m-4.9 -4.9v9.8M790.3 319.0h9.8m-4.9 -4.9v9.8M707.3 402.1h9.8m-4.9 -4.9v9.8M711.8 603.4h9.8m-4.9 -4.9v9.8M626.1 517.5h9.8m-4.9 -4.9v9.8M769.5 364.3h9.8m-4.9 -4.9v9.8M609.4 478.1h9.8m-4.9 -4.9v9.8M767.7 518.9h9.8m-4.9 -4.9v9.8M502.8 603.4h9.8m-4.9 -4.9v9.8M725.1 452.9h9.8m-4.9 -4.9v9.8M709.3 461.3h9.8m-4.9 -4.9v9.8M718.4 521.2h9.8m-4.9 -4.9v9.8M760.0 297.9h9.8m-4.9 -4.9v9.8M572.7 447.9h9.8m-4.9 -4.9v9.8M767.5 530.3h9.8m-4.9 -4.9v9.8M518.3 585.9h9.8m-4.9 -4.9v9.8M852.9 395.0h9.8m-4.9 -4.9v9.8M592.9 562.7h9.8m-4.9 -4.9v9.8M854.8 463.0h9.8m-4.9 -4.9v9.8M625.5 603.4h9.8m-4.9 -4.9v9.8"/>
<path d="M754.5 479.0h9.8m-4.9 -4.9v9.8M503.9 587.6h9.8m-4.9 -4.9v9.8M708.4 351.3h9.8m-4.9 -4.9v9.8M807.5 512.7h9.8m-4.9 -4.9v9.8M818.7 467.5h9.8m-4.9 -4.9v9.8M537.8 566.8h9.8m-4.9 -4.9v9.8M679.6 533.6h9.8m-4.9 -4.9v9.8M638.4 501.3h9.8m-4.9 -4.9v9.8M821.0 514.7h9.8m-4.9 -4.9v9.8M705.4 497.4h9.8m-4.9 -4.9v9.8M598.2 418.6h9.8m-4.9 -4.9v9.8M832.1 510.9h9.8m-4.9 -4.9v9.8M774.1 428.4h9.8m-4.9 -4.9v9.8M831.8 496.5h9.8m-4.9 -4.9v9.8M821.2 500.5h9.8m-4.9 -4.9v9.8M729.9 506.3h9.8m-4.9 -4.9v9.8M860.4 482.0h9.8m-4.9 -4.9v9.8M848.7 446.3h9.8m-4.9 -4.9v9.8M612.6 274.4h9.8m-4.9 -4.9v9.8M832.4 433.3h9.8m-4.9 -4.9v9.8M723.9 498.2h9.8m-4.9 -4.9v9.8M461.4 603.4h9.8m-4.9 -4.9v9.8M693.0 561.8h9.8m-4.9 -4.9v9.8M830.7 494.5h9.8m-4.9 -4.9v9.8M724.1 603.4h9.8m-4.9 -4.9v9.8M700.2 482.4h9.8m-4.9 -4.9v9.8M725.6 311.9h9.8m-4.9 -4.9v9.8M751.3 521.2h9.8m-4.9 -4.9v9.8M769.6 430.6h9.8m-4.9 -4.9v9.8M587.1 453.9h9.8m-4.9 -4.9v9.8M757.3 460.6h9.8m-4.9 -4.9v9.8M686.2 477.1h9.8m-4.9 -4.9v9.8M756.3 467.9h9.8m-4.9 -4.9v9.8M795.0 397.2h9.8m-4.9 -4.9v9.8M748.1 603.4h9.8m-4.9 -4.9v9.8M528.3 580.1h9.8m-4.9 -4.9v9.8M637.9 530.3h9.8m-4.9 -4.9v9.8M654.5 552.0h9.8m-4.9 -4.9v9.8M831.1 446.9h9.8m-4.9 -4.9v9.8M669.8 404.2h9.8m-4.9 -4.9v9.8M556.0 585.2h9.8m-4.9 -4.9v9.8M677.4 494.3h9.8m-4.9 -4.9v9.8M602.5 591.7h9.8m-4.9 -4.9v9.8M715.4 440.0h9.8m-4.9 -4.9v9.8M778.1 466.6h9.8m-4.9 -4.9v9.8M695.5 514.5h9.8m-4.9 -4.9v9.8M712.6 380.0h9.8m-4.9 -4.9v9.8M793.9 413.1h9.8m-4.9 -4.9v9.8M662.5 553.3h9.8m-4.9 -4.9v9.8M631.3 506.3h9.8m-4.9 -4.9v9.8M613.6 523.3h9.8m-4.9 -4.9v9.8M685.2 603.4h9.8m-4.9 -4.9v9.8M800.8 417.8h9.8m-4.9 -4.9v9.8M852.7 416.7h9.8m-4.9 -4.9v9.8M826.5 492.5h9.8m-4.9 -4.9v9.8M758.2 466.8h9.8m-4.9 -4.9v9.8M600.6 504.5h9.8m-4.9 -4.9v9.8M744.7 419.1h9.8m-4.9 -4.9v9.8M778.0 501.6h9.8m-4.9 -4.9v9.8M837.5 447.3h9.8m-4.9 -4.9v9.8M731.4 413.0h9.8m-4.9 -4.9v9.8M852.8 515.3h9.8m-4.9 -4.9v9.8M824.6 500.4h9.8m-4.9 -4.9v9.8M840.2 458.1h9.8m-4.9 -4.9v9.8M738.7 496.5h9.8m-4.9 -4.9v9.8M677.6 496.7h9.8m-4.9 -4.9v9.8M795.6 546.1h9.8m-4.9 -4.9v9.8M746.2 530.2h9.8m-4.9 -4.9v9.8M847.5 452.3h9.8m-4.9 -4.9v9.8M779.7 518.6h9.8m-4.9 -4.9v9.8M696.5 539.4h9.8m-4.9 -4.9v9.8M776.5 527.3h9.8m-4.9 -4.9v9.8M748.9 541.0h9.8m-4.9 -4.9v9.8M670.2 361.4h9.8m-4.9 -4.9v9.8M834.6 403.0h9.8m-4.9 -4.9v9.8M710.1 416.0h9.8m-4.9 -4.9v9.8M758.7 477.4h9.8m-4.9 -4.9v9.8M753.5 565.1h9.8m-4.9 -4.9v9.8M825.0 410.0h9.8m-4.9 -4.9v9.8M570.4 553.5h9.8m-4.9 -4.9v9.8M396.0 573.1h9.8m-4.9 -4.9v9.8M794.4 324.5h9.8m-4.9 -4.9v9.8M844.7 421.9h9.8m-4.9 -4.9v9.8M745.9 497.1h9.8m-4.9 -4.9v9.8M726.8 603.4h9.8m-4.9 -4.9v9.8M692.4 510.9h9.8m-4.9 -4.9v9.8M817.9 543.0h9.8m-4.9 -4.9v9.8M449.2 603.4h9.8m-4.9 -4.9v9.8M775.5 514.9h9.8m-4.9 -4.9v9.8M473.6 603.4h9.8m-4.9 -4.9v9.8M699.3 459.8h9.8m-4.9 -4.9v9.8M622.8 499.6h9.8m-4.9 -4.9v9.8M744.8 475.2h9.8m-4.9 -4.9v9.8M848.9 342.4h9.8m-4.9 -4.9v9.8M788.6 304.8h9.8m-4.9 -4.9v9.8M813.8 435.4h9.8m-4.9 -4.9v9.8M797.3 411.7h9.8m-4.9 -4.9v9.8M774.9 441.5h9.8m-4.9 -4.9v9.8M417.5 563.5h9.8m-4.9 -4.9v9.8M785.0 452.6h9.8m-4.9 -4.9v9.8M861.7 470.6h9.8m-4.9 -4.9v9.8M786.0 454.1h9.8m-4.9 -4.9v9.8M687.8 519.9h9.8m-4.9 -4.9v9.8M776.5 485.5h9.8m-4.9 -4.9v9.8M807.3 459.1h9.8m-4.9 -4.9v9.8M673.8 516.0h9.8m-4.9 -4.9v9.8M653.8 558.6h9.8m-4.9 -4.9v9.8M785.5 474.6h9.8m-4.9 -4.9v9.8M788.5 434.6h9.8m-4.9 -4.9v9.8M856.7 486.9h9.8m-4.9 -4.9v9.8M765.6 522.5h9.8m-4.9 -4.9v9.8M821.3 458.5h9.8m-4.9 -4.9v9.8M719.5 345.5h9.8m-4.9 -4.9v9.8M685.5 418.9h9.8m-4.9 -4.9v9.8M817.9 456.4h9.8m-4.9 -4.9v9.8M499.5 603.4h9.8m-4.9 -4.9v9.8M387.1 603.4h9.8m-4.9 -4.9v9.8M622.7 477.5h9.8m-4.9 -4.9v9.8M758.4 512.3h9.8m-4.9 -4.9v9.8M732.4 445.3h9.8m-4.9 -4.9v9.8M659.6 347.4h9.8m-4.9 -4.9v9.8M708.3 396.4h9.8m-4.9 -4.9v9.8M756.4 376.9h9.8m-4.9 -4.9v9.8M777.0 484.6h9.8m-4.9 -4.9v9.8M769.1 452.2h9.8m-4.9 -4.9v9.8M845.2 475.2h9.8m-4.9 -4.9v9.8M792.6 467.9h9.8m-4.9 -4.9v9.8M738.1 334.5h9.8m-4.9 -4.9v9.8M706.9 377.4h9.8m-4.9 -4.9v9.8M824.5 396.1h9.8m-4.9 -4.9v9.8M833.3 390.4h9.8m-4.9 -4.9v9.8M638.4 590.0h9.8m-4.9 -4.9v9.8M711.1 329.4h9.8m-4.9 -4.9v9.8M793.1 472.7h9.8m-4.9 -4.9v9.8M739.1 348.7h9.8m-4.9 -4.9v9.8M858.9 497.4h9.8m-4.9 -4.9v9.8M725.3 437.6h9.8m-4.9 -4.9v9.8M421.9 518.7h9.8m-4.9 -4.9v9.8M777.8 459.0h9.8m-4.9 -4.9v9.8M696.2 471.4h9.8m-4.9 -4.9v9.8M750.7 358.9h9.8m-4.9 -4.9v9.8M840.7 395.3h9.8m-4.9 -4.9v9.8M702.5 603.4h9.8m-4.9 -4.9v9.8M803.7 401.5h9.8m-4.9 -4.9v9.8M803.4 444.1h9.8m-4.9 -4.9v9.8M787.1 544.6h9.8m-4.9 -4.9v9.8M756.4 407.1h9.8m-4.9 -4.9v9.8M712.4 582.1h9.8m-4.9 -4.9v9.8M658.3 544.2h9.8m-4.9 -4.9v9.8M732.9 464.9h9.8m-4.9 -4.9v9.8M835.5 365.0h9.8m-4.9 -4.9v9.8M847.8 483.4h9.8m-4.9 -4.9v9.8M705.4 480.0h9.8m-4.9 -4.9v9.8M608.3 603.4h9.8m-4.9 -4.9v9.8M780.6 344.8h9.8m-4.9 -4.9v9.8M746.0 559.6h9.8m-4.9 -4.9v9.8M778.6 495.2h9.8m-4.9 -4.9v9.8M584.0 536.7h9.8m-4.9 -4.9v9.8M848.0 421.5h9.8m-4.9 -4.9v9.8M779.2 379.2h9.8m-4.9 -4.9v9.8M826.4 524.9h9.8m-4.9 -4.9v9.8M769.1 348.0h9.8m-4.9 -4.9v9.8M841.8 447.0h9.8m-4.9 -4.9v9.8M692.1 411.8h9.8m-4.9 -4.9v9.8M814.2 377.0h9.8m-4.9 -4.9v9.8M863.3 481.1h9.8m-4.9 -4.9v9.8M798.8 386.4h9.8m-4.9 -4.9v9.8M714.3 406.8h9.8m-4.9 -4.9v9.8M837.2 357.4h9.8m-4.9 -4.9v9.8M701.8 488.4h9.8m-4.9 -4.9v9.8M748.2 454.5h9.8m-4.9 -4.9v9.8M690.5 587.6h9.8m-4.9 -4.9v9.8M608.1 440.8h9.8m-4.9 -4.9v9.8M583.1 537.4h9.8m-4.9 -4.9v9.8M732.1 544.7h9.8m-4.9 -4.9v9.8M758.0 422.0h9.8m-4.9 -4.9v9.8M796.7 518.3h9.8m-4.9 -4.9v9.8M708.9 473.1h9.8m-4.9 -4.9v9.8M683.7 544.0h9.8m-4.9 -4.9v9.8M683.5 355.0h9.8m-4.9 -4.9v9.8M608.1 255.1h9.8m-4.9 -4.9v9.8M825.1 528.7h9.8m-4.9 -4.9v9.8M711.0 250.6h9.8m-4.9 -4.9v9.8M822.0 422.0h9.8m-4.9 -4.9v9.8M440.3 585.2h9.8m-4.9 -4.9v9.8M721.3 603.4h9.8m-4.9 -4.9v9.8M650.3 551.3h9.8m-4.9 -4.9v9.8M678.6 506.0h9.8m-4.9 -4.9v9.8M570.3 603.4h9.8m-4.9 -4.9v9.8M823.3 522.8h9.8m-4.9 -4.9v9.8M732.7 420.7h9.8m-4.9 -4.9v9.8M470.2 595.7h9.8m-4.9 -4.9v9.8M691.8 444.1h9.8m-4.9 -4.9v9.8M753.3 428.1h9.8m-4.9 -4.9v9.8"/>
<path d="M608.1 355.9h9.8m-4.9 -4.9v9.8M857.5 487.1h9.8m-4.9 -4.9v9.8M794.5 473.4h9.8m-4.9 -4.9v9.8M624.6 521.6h9.8m-4.9 -4.9v9.8M747.4 485.4h9.8m-4.9 -4.9v9.8M728.3 563.7h9.8m-4.9 -4.9v9.8M813.5 389.8h9.8m-4.9 -4.9v9.8M816.3 319.4h9.8m-4.9 -4.9v9.8M761.5 481.6h9.8m-4.9 -4.9v9.8M717.7 461.2h9.8m-4.9 -4.9v9.8M790.2 480.5h9.8m-4.9 -4.9v9.8M635.6 467.8h9.8m-4.9 -4.9v9.8M760.4 458.7h9.8m-4.9 -4.9v9.8M832.3 450.3h9.8m-4.9 -4.9v9.8M807.6 485.0h9.8m-4.9 -4.9v9.8M780.1 603.4h9.8m-4.9 -4.9v9.8M636.9 523.6h9.8m-4.9 -4.9v9.8M823.4 446.3h9.8m-4.9 -4.9v9.8M646.5 493.2h9.8m-4.9 -4.9v9.8M590.4 545.3h9.8m-4.9 -4.9v9.8M805.3 470.2h9.8m-4.9 -4.9v9.8M782.5 440.3h9.8m-4.9 -4.9v9.8M723.6 603.4h9.8m-4.9 -4.9v9.8M418.8 581.7h9.8m-4.9 -4.9v9.8M848.2 420.9h9.8m-4.9 -4.9v9.8M607.7 576.1h9.8m-4.9 -4.9v9.8M686.8 480.9h9.8m-4.9 -4.9v9.8M708.5 442.9h9.8m-4.9 -4.9v9.8M698.1 250.2h9.8m-4.9 -4.9v9.8M756.0 475.5h9.8m-4.9 -4.9v9.8M777.9 455.3h9.8m-4.9 -4.9v9.8M803.1 462.2h9.8m-4.9 -4.9v9.8M765.0 501.9h9.8m-4.9 -4.9v9.8M852.7 489.7h9.8m-4.9 -4.9v9.8M827.7 502.0h9.8m-4.9 -4.9v9.8M724.9 603.4h9.8m-4.9 -4.9v9.8M662.6 503.8h9.8m-4.9 -4.9v9.8M756.6 396.2h9.8m-4.9 -4.9v9.8M632.2 576.4h9.8m-4.9 -4.9v9.8M679.9 534.8h9.8m-4.9 -4.9v9.8M766.9 420.3h9.8m-4.9 -4.9v9.8M526.5 584.0h9.8m-4.9 -4.9v9.8M769.9 458.3h9.8m-4.9 -4.9v9.8M679.3 526.2h9.8m-4.9 -4.9v9.8M844.2 418.7h9.8m-4.9 -4.9v9.8M858.1 475.4h9.8m-4.9 -4.9v9.8M716.8 603.4h9.8m-4.9 -4.9v9.8M708.0 530.0h9.8m-4.9 -4.9v9.8M861.3 477.7h9.8m-4.9 -4.9v9.8M761.7 502.0h9.8m-4.9 -4.9v9.8M633.5 603.4h9.8m-4.9 -4.9v9.8M838.1 366.6h9.8m-4.9 -4.9v9.8M814.0 505.7h9.8m-4.9 -4.9v9.8M840.5 382.8h9.8m-4.9 -4.9v9.8M760.7 356.0h9.8m-4.9 -4.9v9.8M685.8 343.9h9.8m-4.9 -4.9v9.8M766.3 603.4h9.8m-4.9 -4.9v9.8M858.6 422.0h9.8m-4.9 -4.9v9.8M759.4 532.2h9.8m-4.9 -4.9v9.8M848.1 460.3h9.8m-4.9 -4.9v9.8M654.3 422.8h9.8m-4.9 -4.9v9.8M723.9 504.1h9.8m-4.9 -4.9v9.8M581.0 519.1h9.8m-4.9 -4.9v9.8M795.3 481.5h9.8m-4.9 -4.9v9.8M572.5 512.7h9.8m-4.9 -4.9v9.8M793.4 436.4h9.8m-4.9 -4.9v9.8M825.5 478.7h9.8m-4.9 -4.9v9.8M729.4 294.1h9.8m-4.9 -4.9v9.8M734.3 294.5h9.8m-4.9 -4.9v9.8M719.2 432.8h9.8m-4.9 -4.9v9.8M828.3 469.0h9.8m-4.9 -4.9v9.8M672.4 365.8h9.8m-4.9 -4.9v9.8M793.0 410.5h9.8m-4.9 -4.9v9.8M645.3 460.5h9.8m-4.9 -4.9v9.8M782.5 496.8h9.8m-4.9 -4.9v9.8M850.4 426.8h9.8m-4.9 -4.9v9.8M720.8 416.9h9.8m-4.9 -4.9v9.8M809.2 456.6h9.8m-4.9 -4.9v9.8M832.6 417.5h9.8m-4.9 -4.9v9.8M847.9 415.9h9.8m-4.9 -4.9v9.8M846.6 412.5h9.8m-4.9 -4.9v9.8M618.1 312.0h9.8m-4.9 -4.9v9.8M747.5 311.0h9.8m-4.9 -4.9v9.8M676.3 488.5h9.8m-4.9 -4.9v9.8M783.6 487.9h9.8m-4.9 -4.9v9.8M813.1 449.9h9.8m-4.9 -4.9v9.8M830.5 503.8h9.8m-4.9 -4.9v9.8M719.6 424.9h9.8m-4.9 -4.9v9.8M596.3 525.8h9.8m-4.9 -4.9v9.8M767.1 424.3h9.8m-4.9 -4.9v9.8M853.8 320.9h9.8m-4.9 -4.9v9.8M783.4 471.8h9.8m-4.9 -4.9v9.8M660.2 415.7h9.8m-4.9 -4.9v9.8M764.4 407.4h9.8m-4.9 -4.9v9.8M690.9 484.1h9.8m-4.9 -4.9v9.8M853.7 504.3h9.8m-4.9 -4.9v9.8M337.2 603.4h9.8m-4.9 -4.9v9.8M624.5 518.5h9.8m-4.9 -4.9v9.8M672.7 555.0h9.8m-4.9 -4.9v9.8M781.4 529.9h9.8m-4.9 -4.9v9.8M678.0 555.4h9.8m-4.9 -4.9v9.8M785.3 420.6h9.8m-4.9 -4.9v9.8M857.4 438.6h9.8m-4.9 -4.9v9.8M742.0 352.6h9.8m-4.9 -4.9v9.8M828.3 465.3h9.8m-4.9 -4.9v9.8M778.3 459.6h9.8m-4.9 -4.9v9.8M619.7 497.3h9.8m-4.9 -4.9v9.8M863.7 445.0h9.8m-4.9 -4.9v9.8M788.1 492.3h9.8m-4.9 -4.9v9.8M603.5 546.6h9.8m-4.9 -4.9v9.8M854.9 389.4h9.8m-4.9 -4.9v9.8M863.1 432.2h9.8m-4.9 -4.9v9.8M862.4 480.3h9.8m-4.9 -4.9v9.8M792.6 389.0h9.8m-4.9 -4.9v9.8M861.3 487.4h9.8m-4.9 -4.9v9.8M720.1 462.3h9.8m-4.9 -4.9v9.8M536.5 470.8h9.8m-4.9 -4.9v9.8M833.0 516.3h9.8m-4.9 -4.9v9.8M795.9 515.1h9.8m-4.9 -4.9v9.8M810.6 456.8h9.8m-4.9 -4.9v9.8M574.2 529.8h9.8m-4.9 -4.9v9.8M728.1 318.2h9.8m-4.9 -4.9v9.8M813.3 521.7h9.8m-4.9 -4.9v9.8M679.4 557.6h9.8m-4.9 -4.9v9.8M651.6 532.1h9.8m-4.9 -4.9v9.8M803.7 416.1h9.8m-4.9 -4.9v9.8M701.8 439.9h9.8m-4.9 -4.9v9.8M540.5 510.3h9.8m-4.9 -4.9v9.8M600.1 581.6h9.8m-4.9 -4.9v9.8M763.5 452.1h9.8m-4.9 -4.9v9.8M700.8 496.8h9.8m-4.9 -4.9v9.8M784.5 553.3h9.8m-4.9 -4.9v9.8M697.9 562.6h9.8m-4.9 -4.9v9.8M710.0 552.2h9.8m-4.9 -4.9v9.8M618.1 399.8h9.8m-4.9 -4.9v9.8M821.2 486.9h9.8m-4.9 -4.9v9.8M790.0 479.8h9.8m-4.9 -4.9v9.8M671.5 497.9h9.8m-4.9 -4.9v9.8M631.2 466.0h9.8m-4.9 -4.9v9.8M819.4 490.9h9.8m-4.9 -4.9v9.8M773.2 315.2h9.8m-4.9 -4.9v9.8M602.4 603.4h9.8m-4.9 -4.9v9.8M812.3 461.6h9.8m-4.9 -4.9v9.8M343.9 603.4h9.8m-4.9 -4.9v9.8M770.0 335.6h9.8m-4.9 -4.9v9.8M786.7 504.8h9.8m-4.9 -4.9v9.8M675.8 474.2h9.8m-4.9 -4.9v9.8M769.4 423.0h9.8m-4.9 -4.9v9.8M757.2 383.4h9.8m-4.9 -4.9v9.8M773.6 328.2h9.8m-4.9 -4.9v9.8M789.4 435.8h9.8m-4.9 -4.9v9.8M788.3 483.3h9.8m-4.9 -4.9v9.8M781.6 519.1h9.8m-4.9 -4.9v9.8M680.4 542.2h9.8m-4.9 -4.9v9.8M811.9 402.8h9.8m-4.9 -4.9v9.8M747.5 473.4h9.8m-4.9 -4.9v9.8M648.5 510.1h9.8m-4.9 -4.9v9.8M582.4 525.7h9.8m-4.9 -4.9v9.8M727.8 358.7h9.8m-4.9 -4.9v9.8M769.6 511.4h9.8m-4.9 -4.9v9.8M803.4 488.0h9.8m-4.9 -4.9v9.8M779.7 440.9h9.8m-4.9 -4.9v9.8M835.2 432.0h9.8m-4.9 -4.9v9.8M730.2 380.3h9.8m-4.9 -4.9v9.8M804.7 528.4h9.8m-4.9 -4.9v9.8M704.7 452.9h9.8m-4.9 -4.9v9.8M817.2 518.5h9.8m-4.9 -4.9v9.8M784.3 387.6h9.8m-4.9 -4.9v9.8M589.8 572.6h9.8m-4.9 -4.9v9.8M815.0 391.7h9.8m-4.9 -4.9v9.8M631.8 466.1h9.8m-4.9 -4.9v9.8M855.8 377.4h9.8m-4.9 -4.9v9.8M753.6 446.1h9.8m-4.9 -4.9v9.8M809.2 467.2h9.8m-4.9 -4.9v9.8M744.9 542.0h9.8m-4.9 -4.9v9.8M796.5 481.8h9.8m-4.9 -4.9v9.8M731.7 390.3h9.8m-4.9 -4.9v9.8M821.8 399.5h9.8m-4.9 -4.9v9.8M858.5 353.7h9.8m-4.9 -4.9v9.8M775.9 341.6h9.8m-4.9 -4.9v9.8M824.6 384.9h9.8m-4.9 -4.9v9.8M674.7 426.8h9.8m-4.9 -4.9v9.8M824.0 335.7h9.8m-4.9 -4.9v9.8M747.1 445.1h9.8m-4.9 -4.9v9.8M841.4 444.6h9.8m-4.9 -4.9v9.8M835.1 510.1h9.8m-4.9 -4.9v9.8M757.7 414.9h9.8m-4.9 -4.9v9.8M762.8 502.7h9.8m-4.9 -4.9v9.8M690.6 494.1h9.8m-4.9 -4.9v9.8M771.3 412.3h9.8m-4.9 -4.9v9.8M832.5 449.6h9.8m-4.9 -4.9v9.8M742.1 333.4h9.8m-4.9 -4.9v9.8M764.1 493.2h9.8m-4.9 -4.9v9.8"/>
<path d="M809.9 335.7h9.8m-4.9 -4.9v9.8M638.4 471.1h9.8m-4.9 -4.9v9.8M663.6 344.8h9.8m-4.9 -4.9v9.8M802.5 438.2h9.8m-4.9 -4.9v9.8M741.9 501.8h9.8m-4.9 -4.9v9.8M545.8 368.1h9.8m-4.9 -4.9v9.8M613.5 603.4h9.8m-4.9 -4.9v9.8M810.0 524.1h9.8m-4.9 -4.9v9.8M763.7 520.6h9.8m-4.9 -4.9v9.8M810.0 404.4h9.8m-4.9 -4.9v9.8M857.0 456.0h9.8m-4.9 -4.9v9.8M533.2 527.6h9.8m-4.9 -4.9v9.8M756.3 490.0h9.8m-4.9 -4.9v9.8M525.0 574.2h9.8m-4.9 -4.9v9.8M714.9 549.3h9.8m-4.9 -4.9v9.8M496.2 603.4h9.8m-4.9 -4.9v9.8M728.5 320.2h9.8m-4.9 -4.9v9.8M787.8 407.3h9.8m-4.9 -4.9v9.8M733.8 603.4h9.8m-4.9 -4.9v9.8M683.8 582.3h9.8m-4.9 -4.9v9.8M704.3 551.7h9.8m-4.9 -4.9v9.8M746.2 603.4h9.8m-4.9 -4.9v9.8M630.7 603.4h9.8m-4.9 -4.9v9.8M842.9 463.2h9.8m-4.9 -4.9v9.8M705.2 460.1h9.8m-4.9 -4.9v9.8M688.6 536.9h9.8m-4.9 -4.9v9.8M714.3 532.2h9.8m-4.9 -4.9v9.8M616.6 576.2h9.8m-4.9 -4.9v9.8M715.2 458.7h9.8m-4.9 -4.9v9.8M850.7 440.7h9.8m-4.9 -4.9v9.8M861.7 475.9h9.8m-4.9 -4.9v9.8M610.9 570.3h9.8m-4.9 -4.9v9.8M744.6 478.4h9.8m-4.9 -4.9v9.8M676.6 521.6h9.8m-4.9 -4.9v9.8M689.7 472.4h9.8m-4.9 -4.9v9.8M693.1 526.6h9.8m-4.9 -4.9v9.8M718.3 529.0h9.8m-4.9 -4.9v9.8M789.8 477.0h9.8m-4.9 -4.9v9.8M552.3 496.1h9.8m-4.9 -4.9v9.8M709.7 312.6h9.8m-4.9 -4.9v9.8M792.7 495.6h9.8m-4.9 -4.9v9.8M725.9 549.3h9.8m-4.9 -4.9v9.8M733.4 493.0h9.8m-4.9 -4.9v9.8M676.5 445.7h9.8m-4.9 -4.9v9.8M686.7 448.7h9.8m-4.9 -4.9v9.8M789.5 368.8h9.8m-4.9 -4.9v9.8M595.6 543.5h9.8m-4.9 -4.9v9.8M781.0 401.0h9.8m-4.9 -4.9v9.8M797.5 428.2h9.8m-4.9 -4.9v9.8M807.4 525.3h9.8m-4.9 -4.9v9.8M862.8 395.3h9.8m-4.9 -4.9v9.8M662.0 469.7h9.8m-4.9 -4.9v9.8M542.7 447.9h9.8m-4.9 -4.9v9.8M674.3 464.3h9.8m-4.9 -4.9v9.8M728.9 478.4h9.8m-4.9 -4.9v9.8M765.3 386.2h9.8m-4.9 -4.9v9.8M480.9 518.7h9.8m-4.9 -4.9v9.8M593.3 555.5h9.8m-4.9 -4.9v9.8M814.0 329.2h9.8m-4.9 -4.9v9.8M817.7 456.8h9.8m-4.9 -4.9v9.8M819.2 444.1h9.8m-4.9 -4.9v9.8M847.5 447.6h9.8m-4.9 -4.9v9.8M770.4 491.5h9.8m-4.9 -4.9v9.8M724.8 508.6h9.8m-4.9 -4.9v9.8M711.1 435.6h9.8m-4.9 -4.9v9.8M769.6 466.6h9.8m-4.9 -4.9v9.8M836.0 520.0h9.8m-4.9 -4.9v9.8M711.1 483.0h9.8m-4.9 -4.9v9.8M798.2 399.0h9.8m-4.9 -4.9v9.8M824.7 365.9h9.8m-4.9 -4.9v9.8M693.0 418.1h9.8m-4.9 -4.9v9.8M821.3 466.8h9.8m-4.9 -4.9v9.8M844.0 450.2h9.8m-4.9 -4.9v9.8M736.0 457.3h9.8m-4.9 -4.9v9.8M747.1 496.9h9.8m-4.9 -4.9v9.8M597.7 447.9h9.8m-4.9 -4.9v9.8M720.3 461.5h9.8m-4.9 -4.9v9.8M795.5 486.2h9.8m-4.9 -4.9v9.8M729.4 476.2h9.8m-4.9 -4.9v9.8M770.8 473.4h9.8m-4.9 -4.9v9.8M859.5 463.4h9.8m-4.9 -4.9v9.8M841.0 329.0h9.8m-4.9 -4.9v9.8M712.7 426.9h9.8m-4.9 -4.9v9.8M710.6 294.5h9.8m-4.9 -4.9v9.8M694.9 488.3h9.8m-4.9 -4.9v9.8M669.4 520.0h9.8m-4.9 -4.9v9.8M831.2 519.3h9.8m-4.9 -4.9v9.8M731.7 449.0h9.8m-4.9 -4.9v9.8M825.4 454.6h9.8m-4.9 -4.9v9.8M761.6 364.8h9.8m-4.9 -4.9v9.8M786.0 506.1h9.8m-4.9 -4.9v9.8M654.0 275.0h9.8m-4.9 -4.9v9.8M860.1 485.0h9.8m-4.9 -4.9v9.8M760.2 401.3h9.8m-4.9 -4.9v9.8M722.9 434.3h9.8m-4.9 -4.9v9.8M804.5 474.3h9.8m-4.9 -4.9v9.8M760.0 254.6h9.8m-4.9 -4.9v9.8M803.2 390.6h9.8m-4.9 -4.9v9.8M861.0 487.1h9.8m-4.9 -4.9v9.8M795.6 440.4h9.8m-4.9 -4.9v9.8M673.5 385.8h9.8m-4.9 -4.9v9.8M567.1 447.2h9.8m-4.9 -4.9v9.8M772.3 459.4h9.8m-4.9 -4.9v9.8M804.1 488.1h9.8m-4.9 -4.9v9.8M860.2 443.7h9.8m-4.9 -4.9v9.8M726.2 503.4h9.8m-4.9 -4.9v9.8M699.4 480.7h9.8m-4.9 -4.9v9.8M737.2 556.8h9.8m-4.9 -4.9v9.8M766.3 543.4h9.8m-4.9 -4.9v9.8M694.2 402.8h9.8m-4.9 -4.9v9.8M838.8 488.3h9.8m-4.9 -4.9v9.8M592.5 525.8h9.8m-4.9 -4.9v9.8M748.4 450.5h9.8m-4.9 -4.9v9.8M747.7 454.9h9.8m-4.9 -4.9v9.8M741.2 511.5h9.8m-4.9 -4.9v9.8M757.0 394.0h9.8m-4.9 -4.9v9.8M723.1 391.6h9.8m-4.9 -4.9v9.8M770.3 342.2h9.8m-4.9 -4.9v9.8M404.8 603.4h9.8m-4.9 -4.9v9.8M478.4 584.0h9.8m-4.9 -4.9v9.8M812.9 488.3h9.8m-4.9 -4.9v9.8M858.1 457.5h9.8m-4.9 -4.9v9.8M748.9 603.4h9.8m-4.9 -4.9v9.8M577.5 494.8h9.8m-4.9 -4.9v9.8M842.5 299.9h9.8m-4.9 -4.9v9.8M741.6 265.7h9.8m-4.9 -4.9v9.8M413.7 597.9h9.8m-4.9 -4.9v9.8M689.6 501.1h9.8m-4.9 -4.9v9.8M810.4 394.0h9.8m-4.9 -4.9v9.8M747.4 328.9h9.8m-4.9 -4.9v9.8M795.3 401.5h9.8m-4.9 -4.9v9.8M706.3 471.2h9.8m-4.9 -4.9v9.8M691.5 485.9h9.8m-4.9 -4.9v9.8M807.1 427.1h9.8m-4.9 -4.9v9.8M729.7 603.4h9.8m-4.9 -4.9v9.8M777.3 382.8h9.8m-4.9 -4.9v9.8M790.9 445.9h9.8m-4.9 -4.9v9.8M725.4 543.9h9.8m-4.9 -4.9v9.8M783.6 486.2h9.8m-4.9 -4.9v9.8M781.3 471.7h9.8m-4.9 -4.9v9.8M813.2 373.2h9.8m-4.9 -4.9v9.8M770.8 499.8h9.8m-4.9 -4.9v9.8M631.7 565.0h9.8m-4.9 -4.9v9.8M638.8 569.3h9.8m-4.9 -4.9v9.8M744.3 603.4h9.8m-4.9 -4.9v9.8M788.8 274.6h9.8m-4.9 -4.9v9.8M801.1 486.2h9.8m-4.9 -4.9v9.8M725.7 603.4h9.8m-4.9 -4.9v9.8M775.4 331.4h9.8m-4.9 -4.9v9.8M857.0 363.4h9.8m-4.9 -4.9v9.8M827.7 441.7h9.8m-4.9 -4.9v9.8M820.2 408.5h9.8m-4.9 -4.9v9.8M750.6 567.1h9.8m-4.9 -4.9v9.8M760.6 450.0h9.8m-4.9 -4.9v9.8M751.0 435.0h9.8m-4.9 -4.9v9.8M720.6 332.0h9.8m-4.9 -4.9v9.8M700.5 332.8h9.8m-4.9 -4.9v9.8M862.8 409.4h9.8m-4.9 -4.9v9.8M679.5 409.9h9.8m-4.9 -4.9v9.8M724.1 292.8h9.8m-4.9 -4.9v9.8M644.1 232.9h9.8m-4.9 -4.9v9.8M693.6 341.0h9.8m-4.9 -4.9v9.8M700.9 374.0h9.8m-4.9 -4.9v9.8M861.1 344.5h9.8m-4.9 -4.9v9.8M641.2 584.4h9.8m-4.9 -4.9v9.8M771.2 378.3h9.8m-4.9 -4.9v9.8M715.7 325.8h9.8m-4.9 -4.9v9.8M695.3 493.4h9.8m-4.9 -4.9v9.8M565.8 542.4h9.8m-4.9 -4.9v9.8M766.7 431.2h9.8m-4.9 -4.9v9.8M830.0 479.2h9.8m-4.9 -4.9v9.8M807.7 457.6h9.8m-4.9 -4.9v9.8M672.0 460.4h9.8m-4.9 -4.9v9.8M711.4 603.4h9.8m-4.9 -4.9v9.8M782.5 328.3h9.8m-4.9 -4.9v9.8M853.0 426.9h9.8m-4.9 -4.9v9.8M783.9 288.8h9.8m-4.9 -4.9v9.8M608.6 569.9h9.8m-4.9 -4.9v9.8M633.9 534.6h9.8m-4.9 -4.9v9.8M834.5 358.1h9.8m-4.9 -4.9v9.8M824.2 388.4h9.8m-4.9 -4.9v9.8M790.6 494.9h9.8m-4.9 -4.9v9.8M657.7 502.9h9.8m-4.9 -4.9v9.8M721.7 457.9h9.8m-4.9 -4.9v9.8M801.1 462.4h9.8m-4.9 -4.9v9.8M830.9 412.9h9.8m-4.9 -4.9v9.8M684.4 489.1h9.8m-4.9 -4.9v9.8M821.5 477.1h9.8m-4.9 -4.9v9.8M855.9 416.7h9.8m-4.9 -4.9v9.8M835.0 390.9h9.8m-4.9 -4.9v9.8M722.7 485.1h9.8m-4.9 -4.9v9.8M862.3 310.0h9.8m-4.9 -4.9v9.8M743.0 528.5h9.8m-4.9 -4.9v9.8"/>
<path d="M836.8 436.2h9.8m-4.9 -4.9v9.8M818.6 499.7h9.8m-4.9 -4.9v9.8M813.1 435.8h9.8m-4.9 -4.9v9.8M835.7 339.3h9.8m-4.9 -4.9v9.8M837.6 372.1h9.8m-4.9 -4.9v9.8M785.3 473.0h9.8m-4.9 -4.9v9.8M846.8 419.1h9.8m-4.9 -4.9v9.8M779.5 465.9h9.8m-4.9 -4.9v9.8M617.7 512.3h9.8m-4.9 -4.9v9.8M748.5 386.3h9.8m-4.9 -4.9v9.8M716.3 436.4h9.8m-4.9 -4.9v9.8M725.6 317.9h9.8m-4.9 -4.9v9.8M714.5 581.8h9.8m-4.9 -4.9v9.8M819.8 444.1h9.8m-4.9 -4.9v9.8M762.5 493.2h9.8m-4.9 -4.9v9.8M705.6 477.2h9.8m-4.9 -4.9v9.8M796.3 491.5h9.8m-4.9 -4.9v9.8M769.6 538.3h9.8m-4.9 -4.9v9.8M693.5 506.8h9.8m-4.9 -4.9v9.8M759.2 480.3h9.8m-4.9 -4.9v9.8M630.2 520.5h9.8m-4.9 -4.9v9.8M761.3 446.3h9.8m-4.9 -4.9v9.8M812.1 408.4h9.8m-4.9 -4.9v9.8M480.2 586.8h9.8m-4.9 -4.9v9.8M775.4 455.7h9.8m-4.9 -4.9v9.8M832.2 486.5h9.8m-4.9 -4.9v9.8M775.2 489.7h9.8m-4.9 -4.9v9.8M861.8 341.9h9.8m-4.9 -4.9v9.8M745.1 546.5h9.8m-4.9 -4.9v9.8M656.4 549.7h9.8m-4.9 -4.9v9.8M680.1 518.1h9.8m-4.9 -4.9v9.8M809.7 427.6h9.8m-4.9 -4.9v9.8M485.7 474.4h9.8m-4.9 -4.9v9.8M813.9 426.8h9.8m-4.9 -4.9v9.8M826.4 459.5h9.8m-4.9 -4.9v9.8M793.1 470.2h9.8m-4.9 -4.9v9.8M800.8 509.8h9.8m-4.9 -4.9v9.8M838.4 509.0h9.8m-4.9 -4.9v9.8M835.3 449.6h9.8m-4.9 -4.9v9.8M778.3 482.9h9.8m-4.9 -4.9v9.8M862.8 419.3h9.8m-4.9 -4.9v9.8M553.7 548.4h9.8m-4.9 -4.9v9.8M582.5 530.7h9.8m-4.9 -4.9v9.8M670.0 497.9h9.8m-4.9 -4.9v9.8M692.9 603.4h9.8m-4.9 -4.9v9.8M811.5 379.2h9.8m-4.9 -4.9v9.8M758.6 541.2h9.8m-4.9 -4.9v9.8M779.0 519.8h9.8m-4.9 -4.9v9.8M693.8 550.3h9.8m-4.9 -4.9v9.8M751.9 370.1h9.8m-4.9 -4.9v9.8M768.1 518.5h9.8m-4.9 -4.9v9.8M755.3 428.0h9.8m-4.9 -4.9v9.8M747.7 481.1h9.8m-4.9 -4.9v9.8M747.3 339.0h9.8m-4.9 -4.9v9.8M739.6 321.6h9.8m-4.9 -4.9v9.8M846.0 354.5h9.8m-4.9 -4.9v9.8M836.9 452.4h9.8m-4.9 -4.9v9.8M859.6 370.9h9.8m-4.9 -4.9v9.8M694.7 471.9h9.8m-4.9 -4.9v9.8M563.6 603.4h9.8m-4.9 -4.9v9.8M823.6 457.3h9.8m-4.9 -4.9v9.8M640.5 550.4h9.8m-4.9 -4.9v9.8M788.4 427.1h9.8m-4.9 -4.9v9.8M818.6 431.2h9.8m-4.9 -4.9v9.8M759.2 524.7h9.8m-4.9 -4.9v9.8M734.1 327.8h9.8m-4.9 -4.9v9.8M747.0 495.2h9.8m-4.9 -4.9v9.8M659.1 483.3h9.8m-4.9 -4.9v9.8M744.8 512.1h9.8m-4.9 -4.9v9.8M819.3 467.5h9.8m-4.9 -4.9v9.8M852.3 482.9h9.8m-4.9 -4.9v9.8M764.7 542.3h9.8m-4.9 -4.9v9.8M745.7 330.5h9.8m-4.9 -4.9v9.8M405.9 563.5h9.8m-4.9 -4.9v9.8M817.1 337.1h9.8m-4.9 -4.9v9.8M742.0 603.4h9.8m-4.9 -4.9v9.8M747.5 455.8h9.8m-4.9 -4.9v9.8M791.5 485.9h9.8m-4.9 -4.9v9.8M688.2 440.5h9.8m-4.9 -4.9v9.8M835.4 440.0h9.8m-4.9 -4.9v9.8M591.5 603.4h9.8m-4.9 -4.9v9.8M805.6 471.9h9.8m-4.9 -4.9v9.8M740.9 466.7h9.8m-4.9 -4.9v9.8M825.3 443.4h9.8m-4.9 -4.9v9.8M847.8 480.4h9.8m-4.9 -4.9v9.8M833.0 398.8h9.8m-4.9 -4.9v9.8M805.5 440.4h9.8m-4.9 -4.9v9.8M857.9 393.9h9.8m-4.9 -4.9v9.8M676.4 463.0h9.8m-4.9 -4.9v9.8M799.3 470.0h9.8m-4.9 -4.9v9.8M730.2 341.2h9.8m-4.9 -4.9v9.8M727.9 471.4h9.8m-4.9 -4.9v9.8M793.4 430.4h9.8m-4.9 -4.9v9.8M751.9 356.7h9.8m-4.9 -4.9v9.8M752.9 508.4h9.8m-4.9 -4.9v9.8M679.6 457.3h9.8m-4.9 -4.9v9.8M651.4 603.4h9.8m-4.9 -4.9v9.8M665.5 575.4h9.8m-4.9 -4.9v9.8M712.6 372.9h9.8m-4.9 -4.9v9.8M684.6 484.0h9.8m-4.9 -4.9v9.8M805.0 524.1h9.8m-4.9 -4.9v9.8M857.2 459.2h9.8m-4.9 -4.9v9.8M687.0 514.4h9.8m-4.9 -4.9v9.8M808.3 536.5h9.8m-4.9 -4.9v9.8M802.7 420.5h9.8m-4.9 -4.9v9.8M803.9 484.8h9.8m-4.9 -4.9v9.8M798.6 331.9h9.8m-4.9 -4.9v9.8M712.8 441.9h9.8m-4.9 -4.9v9.8M714.5 572.2h9.8m-4.9 -4.9v9.8M682.9 401.3h9.8m-4.9 -4.9v9.8M841.5 505.9h9.8m-4.9 -4.9v9.8M714.5 546.1h9.8m-4.9 -4.9v9.8M721.0 603.4h9.8m-4.9 -4.9v9.8M816.5 423.3h9.8m-4.9 -4.9v9.8M834.8 404.6h9.8m-4.9 -4.9v9.8M847.9 460.6h9.8m-4.9 -4.9v9.8M655.4 471.0h9.8m-4.9 -4.9v9.8M788.5 501.3h9.8m-4.9 -4.9v9.8M758.8 389.8h9.8m-4.9 -4.9v9.8M719.3 468.7h9.8m-4.9 -4.9v9.8M793.1 513.7h9.8m-4.9 -4.9v9.8M708.6 603.4h9.8m-4.9 -4.9v9.8M820.3 431.3h9.8m-4.9 -4.9v9.8M679.1 589.4h9.8m-4.9 -4.9v9.8M802.1 422.8h9.8m-4.9 -4.9v9.8M454.7 603.4h9.8m-4.9 -4.9v9.8M772.0 542.1h9.8m-4.9 -4.9v9.8M720.4 603.4h9.8m-4.9 -4.9v9.8M735.4 468.5h9.8m-4.9 -4.9v9.8M507.2 603.4h9.8m-4.9 -4.9v9.8M863.3 505.8h9.8m-4.9 -4.9v9.8M722.1 497.1h9.8m-4.9 -4.9v9.8M533.2 453.4h9.8m-4.9 -4.9v9.8M806.3 384.1h9.8m-4.9 -4.9v9.8M575.9 489.8h9.8m-4.9 -4.9v9.8M863.3 341.5h9.8m-4.9 -4.9v9.8M697.1 488.7h9.8m-4.9 -4.9v9.8M678.7 555.5h9.8m-4.9 -4.9v9.8M790.3 422.7h9.8m-4.9 -4.9v9.8M773.1 429.1h9.8m-4.9 -4.9v9.8M695.1 484.2h9.8m-4.9 -4.9v9.8M599.0 547.3h9.8m-4.9 -4.9v9.8M857.7 364.2h9.8m-4.9 -4.9v9.8M522.8 585.7h9.8m-4.9 -4.9v9.8M723.9 464.6h9.8m-4.9 -4.9v9.8M821.7 349.9h9.8m-4.9 -4.9v9.8M695.1 539.7h9.8m-4.9 -4.9v9.8M810.8 526.3h9.8m-4.9 -4.9v9.8M789.6 367.3h9.8m-4.9 -4.9v9.8M817.4 421.1h9.8m-4.9 -4.9v9.8M653.6 343.7h9.8m-4.9 -4.9v9.8M741.5 382.2h9.8m-4.9 -4.9v9.8M570.3 545.5h9.8m-4.9 -4.9v9.8M620.3 496.5h9.8m-4.9 -4.9v9.8M849.6 382.4h9.8m-4.9 -4.9v9.8M776.8 490.0h9.8m-4.9 -4.9v9.8M421.9 561.7h9.8m-4.9 -4.9v9.8M644.9 546.4h9.8m-4.9 -4.9v9.8M831.8 380.5h9.8m-4.9 -4.9v9.8M711.9 477.6h9.8m-4.9 -4.9v9.8M837.3 496.7h9.8m-4.9 -4.9v9.8M699.9 573.8h9.8m-4.9 -4.9v9.8M849.8 493.0h9.8m-4.9 -4.9v9.8M480.2 603.4h9.8m-4.9 -4.9v9.8M810.8 501.5h9.8m-4.9 -4.9v9.8M818.2 520.2h9.8m-4.9 -4.9v9.8M766.2 537.2h9.8m-4.9 -4.9v9.8M798.7 458.7h9.8m-4.9 -4.9v9.8M731.3 531.1h9.8m-4.9 -4.9v9.8M813.9 538.3h9.8m-4.9 -4.9v9.8M485.1 585.5h9.8m-4.9 -4.9v9.8M680.0 323.1h9.8m-4.9 -4.9v9.8M722.9 390.5h9.8m-4.9 -4.9v9.8M748.8 566.7h9.8m-4.9 -4.9v9.8M728.8 475.6h9.8m-4.9 -4.9v9.8M528.3 518.1h9.8m-4.9 -4.9v9.8M390.4 603.4h9.8m-4.9 -4.9v9.8M691.3 565.1h9.8m-4.9 -4.9v9.8M755.4 460.9h9.8m-4.9 -4.9v9.8M740.7 510.0h9.8m-4.9 -4.9v9.8M785.0 381.4h9.8m-4.9 -4.9v9.8M742.9 470.5h9.8m-4.9 -4.9v9.8M716.2 603.4h9.8m-4.9 -4.9v9.8M801.9 232.9h9.8m-4.9 -4.9v9.8M481.8 586.8h9.8m-4.9 -4.9v9.8M835.9 416.7h9.8m-4.9 -4.9v9.8M550.5 572.4h9.8m-4.9 -4.9v9.8M750.3 554.1h9.8m-4.9 -4.9v9.8M855.3 455.5h9.8m-4.9 -4.9v9.8M806.0 392.3h9.8m-4.9 -4.9v9.8M792.1 460.1h9.8m-4.9 -4.9v9.8M846.1 432.0h9.8m-4.9 -4.9v9.8M795.0 429.4h9.8m-4.9 -4.9v9.8"/>
<path d="M489.5 472.6h9.8m-4.9 -4.9v9.8M634.3 447.9h9.8m-4.9 -4.9v9.8M679.9 429.2h9.8m-4.9 -4.9v9.8M746.9 445.0h9.8m-4.9 -4.9v9.8M587.5 552.6h9.8m-4.9 -4.9v9.8M776.8 445.1h9.8m-4.9 -4.9v9.8M839.9 302.2h9.8m-4.9 -4.9v9.8M794.2 379.3h9.8m-4.9 -4.9v9.8M772.3 371.2h9.8m-4.9 -4.9v9.8M729.5 603.4h9.8m-4.9 -4.9v9.8M804.7 493.7h9.8m-4.9 -4.9v9.8M773.1 459.6h9.8m-4.9 -4.9v9.8M630.3 441.2h9.8m-4.9 -4.9v9.8M815.6 423.2h9.8m-4.9 -4.9v9.8M666.7 480.4h9.8m-4.9 -4.9v9.8M794.4 276.8h9.8m-4.9 -4.9v9.8M842.8 460.3h9.8m-4.9 -4.9v9.8M729.3 479.1h9.8m-4.9 -4.9v9.8M650.3 490.8h9.8m-4.9 -4.9v9.8M646.9 373.6h9.8m-4.9 -4.9v9.8M805.4 384.1h9.8m-4.9 -4.9v9.8M625.9 494.6h9.8m-4.9 -4.9v9.8M662.5 499.7h9.8m-4.9 -4.9v9.8M833.0 418.2h9.8m-4.9 -4.9v9.8M805.9 325.5h9.8m-4.9 -4.9v9.8M622.5 460.5h9.8m-4.9 -4.9v9.8M856.9 474.7h9.8m-4.9 -4.9v9.8M681.1 345.0h9.8m-4.9 -4.9v9.8M789.4 482.2h9.8m-4.9 -4.9v9.8M820.1 311.1h9.8m-4.9 -4.9v9.8M595.6 495.2h9.8m-4.9 -4.9v9.8M741.8 447.1h9.8m-4.9 -4.9v9.8M654.7 495.4h9.8m-4.9 -4.9v9.8M792.3 542.4h9.8m-4.9 -4.9v9.8M843.5 510.4h9.8m-4.9 -4.9v9.8M854.1 393.4h9.8m-4.9 -4.9v9.8M689.6 603.4h9.8m-4.9 -4.9v9.8M795.5 357.1h9.8m-4.9 -4.9v9.8M716.7 526.2h9.8m-4.9 -4.9v9.8M851.3 475.7h9.8m-4.9 -4.9v9.8M541.6 504.1h9.8m-4.9 -4.9v9.8M835.9 366.3h9.8m-4.9 -4.9v9.8M644.1 384.2h9.8m-4.9 -4.9v9.8M755.0 378.5h9.8m-4.9 -4.9v9.8M728.6 364.9h9.8m-4.9 -4.9v9.8M803.4 450.0h9.8m-4.9 -4.9v9.8M812.1 462.5h9.8m-4.9 -4.9v9.8M826.6 346.0h9.8m-4.9 -4.9v9.8M776.7 444.8h9.8m-4.9 -4.9v9.8M744.9 356.1h9.8m-4.9 -4.9v9.8M720.4 352.1h9.8m-4.9 -4.9v9.8M791.1 366.7h9.8m-4.9 -4.9v9.8M824.4 462.3h9.8m-4.9 -4.9v9.8M818.0 453.2h9.8m-4.9 -4.9v9.8M527.9 426.8h9.8m-4.9 -4.9v9.8M709.8 373.6h9.8m-4.9 -4.9v9.8M848.4 325.1h9.8m-4.9 -4.9v9.8M621.9 553.0h9.8m-4.9 -4.9v9.8M614.8 524.3h9.8m-4.9 -4.9v9.8M711.4 334.2h9.8m-4.9 -4.9v9.8M715.4 539.9h9.8m-4.9 -4.9v9.8M767.8 558.1h9.8m-4.9 -4.9v9.8M844.4 475.8h9.8m-4.9 -4.9v9.8M833.3 413.8h9.8m-4.9 -4.9v9.8M617.7 520.6h9.8m-4.9 -4.9v9.8M758.2 421.3h9.8m-4.9 -4.9v9.8M596.9 511.2h9.8m-4.9 -4.9v9.8M834.6 495.0h9.8m-4.9 -4.9v9.8M649.4 553.6h9.8m-4.9 -4.9v9.8M787.7 510.0h9.8m-4.9 -4.9v9.8M823.7 361.6h9.8m-4.9 -4.9v9.8M803.0 364.0h9.8m-4.9 -4.9v9.8M812.9 428.1h9.8m-4.9 -4.9v9.8M744.4 483.4h9.8m-4.9 -4.9v9.8M831.2 383.0h9.8m-4.9 -4.9v9.8M793.5 437.3h9.8m-4.9 -4.9v9.8M577.1 385.8h9.8m-4.9 -4.9v9.8M734.5 546.6h9.8m-4.9 -4.9v9.8M707.7 444.2h9.8m-4.9 -4.9v9.8M839.0 440.9h9.8m-4.9 -4.9v9.8M816.5 476.3h9.8m-4.9 -4.9v9.8M777.6 478.2h9.8m-4.9 -4.9v9.8M664.1 576.2h9.8m-4.9 -4.9v9.8M813.7 513.9h9.8m-4.9 -4.9v9.8M790.2 548.0h9.8m-4.9 -4.9v9.8M649.8 483.2h9.8m-4.9 -4.9v9.8M807.6 448.6h9.8m-4.9 -4.9v9.8M821.6 402.5h9.8m-4.9 -4.9v9.8M744.9 439.0h9.8m-4.9 -4.9v9.8M683.9 455.4h9.8m-4.9 -4.9v9.8M704.7 391.4h9.8m-4.9 -4.9v9.8M630.2 550.2h9.8m-4.9 -4.9v9.8M703.5 525.2h9.8m-4.9 -4.9v9.8M838.9 502.5h9.8m-4.9 -4.9v9.8M861.1 300.0h9.8m-4.9 -4.9v9.8M848.6 476.2h9.8m-4.9 -4.9v9.8M802.8 482.6h9.8m-4.9 -4.9v9.8M726.1 343.7h9.8m-4.9 -4.9v9.8M835.7 409.0h9.8m-4.9 -4.9v9.8M607.1 546.0h9.8m-4.9 -4.9v9.8M591.3 576.0h9.8m-4.9 -4.9v9.8M737.6 344.3h9.8m-4.9 -4.9v9.8M714.1 437.5h9.8m-4.9 -4.9v9.8M843.4 505.9h9.8m-4.9 -4.9v9.8M760.6 495.3h9.8m-4.9 -4.9v9.8M820.1 511.3h9.8m-4.9 -4.9v9.8M666.2 435.7h9.8m-4.9 -4.9v9.8M863.6 389.7h9.8m-4.9 -4.9v9.8M702.5 526.0h9.8m-4.9 -4.9v9.8M847.2 486.1h9.8m-4.9 -4.9v9.8M750.0 325.3h9.8m-4.9 -4.9v9.8M427.0 593.5h9.8m-4.9 -4.9v9.8M566.5 384.2h9.8m-4.9 -4.9v9.8M637.3 498.6h9.8m-4.9 -4.9v9.8M643.9 586.6h9.8m-4.9 -4.9v9.8M669.2 534.3h9.8m-4.9 -4.9v9.8M557.7 603.4h9.8m-4.9 -4.9v9.8M807.4 413.5h9.8m-4.9 -4.9v9.8M837.8 471.4h9.8m-4.9 -4.9v9.8M721.1 516.0h9.8m-4.9 -4.9v9.8M587.1 339.9h9.8m-4.9 -4.9v9.8M814.3 446.6h9.8m-4.9 -4.9v9.8M794.3 466.7h9.8m-4.9 -4.9v9.8M818.6 527.1h9.8m-4.9 -4.9v9.8M809.6 473.3h9.8m-4.9 -4.9v9.8M753.6 491.8h9.8m-4.9 -4.9v9.8M755.8 511.3h9.8m-4.9 -4.9v9.8M785.9 474.2h9.8m-4.9 -4.9v9.8M846.3 316.5h9.8m-4.9 -4.9v9.8M750.7 554.9h9.8m-4.9 -4.9v9.8M479.5 603.4h9.8m-4.9 -4.9v9.8M837.9 323.1h9.8m-4.9 -4.9v9.8M756.0 489.5h9.8m-4.9 -4.9v9.8M839.0 485.0h9.8m-4.9 -4.9v9.8M858.8 371.6h9.8m-4.9 -4.9v9.8M656.4 472.8h9.8m-4.9 -4.9v9.8M617.9 556.2h9.8m-4.9 -4.9v9.8M849.6 422.0h9.8m-4.9 -4.9v9.8M506.1 553.5h9.8m-4.9 -4.9v9.8M706.1 465.3h9.8m-4.9 -4.9v9.8M758.8 554.4h9.8m-4.9 -4.9v9.8M807.2 347.6h9.8m-4.9 -4.9v9.8M703.2 428.0h9.8m-4.9 -4.9v9.8M736.2 447.0h9.8m-4.9 -4.9v9.8M816.6 336.1h9.8m-4.9 -4.9v9.8M726.2 339.5h9.8m-4.9 -4.9v9.8M787.4 470.3h9.8m-4.9 -4.9v9.8M777.7 470.8h9.8m-4.9 -4.9v9.8M839.1 378.4h9.8m-4.9 -4.9v9.8M752.4 419.4h9.8m-4.9 -4.9v9.8M772.1 408.4h9.8m-4.9 -4.9v9.8M794.6 469.0h9.8m-4.9 -4.9v9.8M591.4 503.8h9.8m-4.9 -4.9v9.8M713.8 459.8h9.8m-4.9 -4.9v9.8M713.5 485.9h9.8m-4.9 -4.9v9.8M857.8 346.0h9.8m-4.9 -4.9v9.8M775.0 527.3h9.8m-4.9 -4.9v9.8M647.8 510.9h9.8m-4.9 -4.9v9.8M818.7 470.8h9.8m-4.9 -4.9v9.8M660.2 545.7h9.8m-4.9 -4.9v9.8M814.7 439.9h9.8m-4.9 -4.9v9.8M656.0 490.7h9.8m-4.9 -4.9v9.8M691.4 379.5h9.8m-4.9 -4.9v9.8M760.7 509.1h9.8m-4.9 -4.9v9.8M766.1 508.3h9.8m-4.9 -4.9v9.8M783.7 433.5h9.8m-4.9 -4.9v9.8M684.1 447.3h9.8m-4.9 -4.9v9.8M853.7 510.4h9.8m-4.9 -4.9v9.8M702.7 562.7h9.8m-4.9 -4.9v9.8M755.3 410.3h9.8m-4.9 -4.9v9.8M762.2 356.5h9.8m-4.9 -4.9v9.8M652.4 603.4h9.8m-4.9 -4.9v9.8M732.5 564.9h9.8m-4.9 -4.9v9.8M816.8 426.7h9.8m-4.9 -4.9v9.8M468.0 583.0h9.8m-4.9 -4.9v9.8M789.5 432.9h9.8m-4.9 -4.9v9.8M739.8 550.6h9.8m-4.9 -4.9v9.8M610.3 488.0h9.8m-4.9 -4.9v9.8M780.6 460.6h9.8m-4.9 -4.9v9.8M533.2 455.3h9.8m-4.9 -4.9v9.8M561.9 498.0h9.8m-4.9 -4.9v9.8M418.1 603.4h9.8m-4.9 -4.9v9.8M689.2 404.1h9.8m-4.9 -4.9v9.8M787.9 495.4h9.8m-4.9 -4.9v9.8M821.1 603.4h9.8m-4.9 -4.9v9.8M786.5 441.5h9.8m-4.9 -4.9v9.8M780.1 444.0h9.8m-4.9 -4.9v9.8M802.6 502.0h9.8m-4.9 -4.9v9.8M851.5 442.3h9.8m-4.9 -4.9v9.8M780.4 273.9h9.8m-4.9 -4.9v9.8M815.3 449.2h9.8m-4.9 -4.9v9.8M270.1 603.4h9.8m-4.9 -4.9v9.8M857.6 462.8h9.8m-4.9 -4.9v9.8"/>
<path d="M776.6 427.9h9.8m-4.9 -4.9v9.8M787.0 510.8h9.8m-4.9 -4.9v9.8M701.8 550.6h9.8m-4.9 -4.9v9.8M850.0 488.6h9.8m-4.9 -4.9v9.8M749.1 569.0h9.8m-4.9 -4.9v9.8M575.7 498.6h9.8m-4.9 -4.9v9.8M583.6 520.8h9.8m-4.9 -4.9v9.8M826.3 473.7h9.8m-4.9 -4.9v9.8M810.7 329.7h9.8m-4.9 -4.9v9.8M819.9 417.0h9.8m-4.9 -4.9v9.8M753.1 521.4h9.8m-4.9 -4.9v9.8M748.1 559.3h9.8m-4.9 -4.9v9.8M569.9 503.0h9.8m-4.9 -4.9v9.8M817.9 373.9h9.8m-4.9 -4.9v9.8M746.5 404.5h9.8m-4.9 -4.9v9.8M745.9 465.4h9.8m-4.9 -4.9v9.8M839.4 480.2h9.8m-4.9 -4.9v9.8M711.4 474.5h9.8m-4.9 -4.9v9.8M692.6 479.7h9.8m-4.9 -4.9v9.8M768.1 498.9h9.8m-4.9 -4.9v9.8M696.8 506.6h9.8m-4.9 -4.9v9.8M817.1 603.4h9.8m-4.9 -4.9v9.8M792.4 442.3h9.8m-4.9 -4.9v9.8M801.9 494.0h9.8m-4.9 -4.9v9.8M633.9 402.9h9.8m-4.9 -4.9v9.8M635.9 355.4h9.8m-4.9 -4.9v9.8M654.3 577.7h9.8m-4.9 -4.9v9.8M780.0 387.4h9.8m-4.9 -4.9v9.8M553.8 518.1h9.8m-4.9 -4.9v9.8M845.9 334.4h9.8m-4.9 -4.9v9.8M839.1 425.3h9.8m-4.9 -4.9v9.8M630.2 492.6h9.8m-4.9 -4.9v9.8M686.1 448.1h9.8m-4.9 -4.9v9.8M573.8 558.6h9.8m-4.9 -4.9v9.8M822.1 386.1h9.8m-4.9 -4.9v9.8M793.8 349.4h9.8m-4.9 -4.9v9.8M613.0 368.1h9.8m-4.9 -4.9v9.8M723.9 404.0h9.8m-4.9 -4.9v9.8M769.6 346.0h9.8m-4.9 -4.9v9.8M675.2 460.6h9.8m-4.9 -4.9v9.8M683.0 473.4h9.8m-4.9 -4.9v9.8M715.1 603.4h9.8m-4.9 -4.9v9.8M311.0 570.8h9.8m-4.9 -4.9v9.8M787.3 375.6h9.8m-4.9 -4.9v9.8M775.6 521.8h9.8m-4.9 -4.9v9.8M604.2 478.5h9.8m-4.9 -4.9v9.8M700.1 571.2h9.8m-4.9 -4.9v9.8M835.7 417.3h9.8m-4.9 -4.9v9.8M666.9 399.1h9.8m-4.9 -4.9v9.8M769.7 452.1h9.8m-4.9 -4.9v9.8M646.9 420.6h9.8m-4.9 -4.9v9.8M747.2 500.1h9.8m-4.9 -4.9v9.8M834.2 487.5h9.8m-4.9 -4.9v9.8M625.9 453.9h9.8m-4.9 -4.9v9.8M736.9 523.6h9.8m-4.9 -4.9v9.8M616.8 519.2h9.8m-4.9 -4.9v9.8M642.6 538.8h9.8m-4.9 -4.9v9.8M787.1 603.4h9.8m-4.9 -4.9v9.8M706.2 570.1h9.8m-4.9 -4.9v9.8M800.6 505.2h9.8m-4.9 -4.9v9.8M762.9 436.2h9.8m-4.9 -4.9v9.8M563.8 384.2h9.8m-4.9 -4.9v9.8M795.9 517.2h9.8m-4.9 -4.9v9.8M723.1 491.5h9.8m-4.9 -4.9v9.8M780.0 378.0h9.8m-4.9 -4.9v9.8M791.2 457.5h9.8m-4.9 -4.9v9.8M812.1 465.8h9.8m-4.9 -4.9v9.8M816.5 334.4h9.8m-4.9 -4.9v9.8M631.7 573.9h9.8m-4.9 -4.9v9.8M653.8 464.4h9.8m-4.9 -4.9v9.8M706.3 521.2h9.8m-4.9 -4.9v9.8M744.9 445.1h9.8m-4.9 -4.9v9.8M830.0 466.4h9.8m-4.9 -4.9v9.8M800.8 408.9h9.8m-4.9 -4.9v9.8M748.5 546.5h9.8m-4.9 -4.9v9.8M847.5 358.4h9.8m-4.9 -4.9v9.8M706.4 429.7h9.8m-4.9 -4.9v9.8M825.1 603.4h9.8m-4.9 -4.9v9.8M831.6 516.1h9.8m-4.9 -4.9v9.8M694.1 472.1h9.8m-4.9 -4.9v9.8M813.8 432.8h9.8m-4.9 -4.9v9.8M682.8 528.8h9.8m-4.9 -4.9v9.8M692.6 547.5h9.8m-4.9 -4.9v9.8M754.5 370.9h9.8m-4.9 -4.9v9.8M380.4 603.4h9.8m-4.9 -4.9v9.8M812.6 521.1h9.8m-4.9 -4.9v9.8M544.9 603.4h9.8m-4.9 -4.9v9.8M811.0 493.3h9.8m-4.9 -4.9v9.8M589.9 507.5h9.8m-4.9 -4.9v9.8M836.2 395.2h9.8m-4.9 -4.9v9.8M853.1 262.2h9.8m-4.9 -4.9v9.8M568.9 435.7h9.8m-4.9 -4.9v9.8M741.0 603.4h9.8m-4.9 -4.9v9.8M844.3 459.7h9.8m-4.9 -4.9v9.8M846.3 434.7h9.8m-4.9 -4.9v9.8M775.1 360.7h9.8m-4.9 -4.9v9.8M824.4 361.5h9.8m-4.9 -4.9v9.8M572.0 511.4h9.8m-4.9 -4.9v9.8M554.3 385.8h9.8m-4.9 -4.9v9.8M617.8 456.3h9.8m-4.9 -4.9v9.8M850.0 329.2h9.8m-4.9 -4.9v9.8M749.6 548.7h9.8m-4.9 -4.9v9.8M802.0 427.3h9.8m-4.9 -4.9v9.8M737.6 557.3h9.8m-4.9 -4.9v9.8M618.2 470.6h9.8m-4.9 -4.9v9.8M566.6 603.4h9.8m-4.9 -4.9v9.8M713.0 492.6h9.8m-4.9 -4.9v9.8M840.1 396.5h9.8m-4.9 -4.9v9.8M689.1 385.7h9.8m-4.9 -4.9v9.8M836.7 498.7h9.8m-4.9 -4.9v9.8M777.0 483.3h9.8m-4.9 -4.9v9.8M793.9 326.2h9.8m-4.9 -4.9v9.8M820.7 408.7h9.8m-4.9 -4.9v9.8M655.0 561.6h9.8m-4.9 -4.9v9.8M288.4 603.4h9.8m-4.9 -4.9v9.8M821.3 472.2h9.8m-4.9 -4.9v9.8M801.3 365.9h9.8m-4.9 -4.9v9.8M705.7 313.3h9.8m-4.9 -4.9v9.8M854.4 508.9h9.8m-4.9 -4.9v9.8M807.2 433.2h9.8m-4.9 -4.9v9.8M821.5 398.9h9.8m-4.9 -4.9v9.8M667.2 587.9h9.8m-4.9 -4.9v9.8M652.0 312.9h9.8m-4.9 -4.9v9.8M766.2 402.4h9.8m-4.9 -4.9v9.8M720.2 489.7h9.8m-4.9 -4.9v9.8M789.7 475.4h9.8m-4.9 -4.9v9.8M725.1 468.8h9.8m-4.9 -4.9v9.8M823.5 384.9h9.8m-4.9 -4.9v9.8M708.3 453.4h9.8m-4.9 -4.9v9.8M694.1 569.5h9.8m-4.9 -4.9v9.8M816.2 432.9h9.8m-4.9 -4.9v9.8M828.4 412.3h9.8m-4.9 -4.9v9.8M726.6 522.2h9.8m-4.9 -4.9v9.8M679.4 513.3h9.8m-4.9 -4.9v9.8M775.1 540.2h9.8m-4.9 -4.9v9.8M657.0 462.5h9.8m-4.9 -4.9v9.8M690.0 435.9h9.8m-4.9 -4.9v9.8M550.5 478.2h9.8m-4.9 -4.9v9.8M788.0 403.1h9.8m-4.9 -4.9v9.8M619.3 566.1h9.8m-4.9 -4.9v9.8M819.6 485.9h9.8m-4.9 -4.9v9.8M845.3 421.5h9.8m-4.9 -4.9v9.8M764.3 353.6h9.8m-4.9 -4.9v9.8M782.6 538.8h9.8m-4.9 -4.9v9.8M857.4 341.3h9.8m-4.9 -4.9v9.8M752.0 347.5h9.8m-4.9 -4.9v9.8M484.0 474.4h9.8m-4.9 -4.9v9.8M806.0 510.3h9.8m-4.9 -4.9v9.8M807.0 430.6h9.8m-4.9 -4.9v9.8M561.6 505.9h9.8m-4.9 -4.9v9.8M682.5 438.7h9.8m-4.9 -4.9v9.8M828.8 458.3h9.8m-4.9 -4.9v9.8M739.0 551.6h9.8m-4.9 -4.9v9.8M848.4 362.2h9.8m-4.9 -4.9v9.8M752.6 547.8h9.8m-4.9 -4.9v9.8M821.8 409.6h9.8m-4.9 -4.9v9.8M764.1 354.8h9.8m-4.9 -4.9v9.8M811.9 431.3h9.8m-4.9 -4.9v9.8M820.0 453.9h9.8m-4.9 -4.9v9.8M582.5 575.4h9.8m-4.9 -4.9v9.8M746.4 325.6h9.8m-4.9 -4.9v9.8M590.5 508.6h9.8m-4.9 -4.9v9.8M718.4 542.8h9.8m-4.9 -4.9v9.8M725.5 429.8h9.8m-4.9 -4.9v9.8M772.4 380.3h9.8m-4.9 -4.9v9.8M850.1 469.8h9.8m-4.9 -4.9v9.8M822.9 494.6h9.8m-4.9 -4.9v9.8M792.1 487.0h9.8m-4.9 -4.9v9.8M853.9 386.4h9.8m-4.9 -4.9v9.8M761.2 515.7h9.8m-4.9 -4.9v9.8M819.0 383.3h9.8m-4.9 -4.9v9.8M740.0 481.6h9.8m-4.9 -4.9v9.8M618.9 498.1h9.8m-4.9 -4.9v9.8M858.8 474.9h9.8m-4.9 -4.9v9.8M825.1 345.1h9.8m-4.9 -4.9v9.8M768.8 493.3h9.8m-4.9 -4.9v9.8M502.2 554.6h9.8m-4.9 -4.9v9.8M774.7 489.6h9.8m-4.9 -4.9v9.8M838.9 348.5h9.8m-4.9 -4.9v9.8M623.0 328.2h9.8m-4.9 -4.9v9.8M756.4 487.5h9.8m-4.9 -4.9v9.8M608.6 512.3h9.8m-4.9 -4.9v9.8M615.6 528.1h9.8m-4.9 -4.9v9.8M711.7 507.0h9.8m-4.9 -4.9v9.8M697.8 450.7h9.8m-4.9 -4.9v9.8M797.5 482.1h9.8m-4.9 -4.9v9.8M785.2 497.2h9.8m-4.9 -4.9v9.8M776.1 603.4h9.8m-4.9 -4.9v9.8M685.3 469.3h9.8m-4.9 -4.9v9.8M699.2 313.6h9.8m-4.9 -4.9v9.8M796.8 428.3h9.8m-4.9 -4.9v9.8M832.8 451.9h9.8m-4.9 -4.9v9.8M839.9 451.4h9.8m-4.9 -4.9v9.8"/>
</g>
<g clip-path="url(#ax)" fill="none" stroke="#0000ff">
<path stroke-width="1.5" d="M86.3,141.5 L540.0,141.5 L540.0,143.4 L543.0,143.4 L543.0,150.5 L546.7,150.5 L546.7,449.5 L549.4,449.5 L549.4,371.4 L552.0,371.4 L552.0,340.3 L555.4,340.3 L555.4,243.5 L558.5,243.5 L558.5,141.5 L871.3,141.5"/>
<path stroke-width="2.1" stroke-dasharray="7.6,3.3" d="M546.9,141.4 V603.1"/>
<path stroke-width="2.1" stroke-dasharray="7.6,3.3" d="M555.0,141.4 V603.1"/>
<path stroke-width="2.1" stroke-linejoin="miter" d="M88.3,591 H549.7 V381.0 H869.3"/>
<path stroke-width="2.1" d="M549.7,492.8 H869.3"/>
</g>
<rect x="91.3" y="141.4" width="775.0" height="461.70000000000005" fill="none" stroke="#000" stroke-width="1.15"/>
<path d="M91.3,603.1 v9.7 M177.4,603.1 v9.7 M263.5,603.1 v9.7 M349.6,603.1 v9.7 M435.7,603.1 v9.7 M521.9,603.1 v9.7 M608.0,603.1 v9.7 M694.1,603.1 v9.7 M780.2,603.1 v9.7 M866.3,603.1 v9.7 M177.1,141.4 v-10.4 M263.2,141.4 v-10.4 M349.3,141.4 v-10.4 M435.4,141.4 v-10.4 M521.6,141.4 v-10.4 M607.7,141.4 v-10.4 M693.8,141.4 v-10.4 M779.9,141.4 v-10.4 M866.0,141.4 v-10.4 M91.0,141.4 v-10.4 M91.3,603.1 h-10.3 M91.3,547.4 h-10.3 M91.3,491.6 h-10.3 M91.3,435.9 h-10.3 M91.3,380.1 h-10.3 M91.3,324.4 h-10.3 M91.3,268.6 h-10.3 M91.3,212.9 h-10.3 M91.3,157.1 h-10.3" stroke="#000" stroke-width="2.0" fill="none"/>
<text x="177.4" y="642.6" font-size="23.9" text-anchor="middle">5</text>
<text x="263.5" y="642.6" font-size="23.9" text-anchor="middle">6</text>
<text x="349.6" y="642.6" font-size="23.9" text-anchor="middle">7</text>
<text x="435.7" y="642.6" font-size="23.9" text-anchor="middle">8</text>
<text x="521.9" y="642.6" font-size="23.9" text-anchor="middle">9</text>
<text x="608.0" y="642.6" font-size="23.9" text-anchor="middle">10</text>
<text x="694.1" y="642.6" font-size="23.9" text-anchor="middle">11</text>
<text x="780.2" y="642.6" font-size="23.9" text-anchor="middle">12</text>
<text x="866.3" y="642.6" font-size="23.9" text-anchor="middle">13</text>
<text x="72.0" y="613.3" font-size="23.9" text-anchor="end">0</text>
<text x="72.0" y="557.6" font-size="23.9" text-anchor="end">1</text>
<text x="72.0" y="501.8" font-size="23.9" text-anchor="end">2</text>
<text x="72.0" y="446.1" font-size="23.9" text-anchor="end">3</text>
<text x="72.0" y="390.3" font-size="23.9" text-anchor="end">4</text>
<text x="72.0" y="334.6" font-size="23.9" text-anchor="end">5</text>
<text x="72.0" y="278.8" font-size="23.9" text-anchor="end">6</text>
<text x="72.0" y="223.1" font-size="23.9" text-anchor="end">7</text>
<text x="72.0" y="167.3" font-size="23.9" text-anchor="end">8</text>
<text x="177.4" y="118.3" font-size="20.8" text-anchor="middle">100</text>
<text x="263.5" y="118.3" font-size="20.8" text-anchor="middle">158</text>
<text x="349.6" y="118.3" font-size="20.8" text-anchor="middle">251</text>
<text x="435.7" y="118.3" font-size="20.8" text-anchor="middle">398</text>
<text x="521.9" y="118.3" font-size="20.8" text-anchor="middle">630</text>
<text x="608.0" y="118.3" font-size="20.8" text-anchor="middle">1000</text>
<text x="694.1" y="118.3" font-size="20.8" text-anchor="middle">1584</text>
<text x="780.2" y="118.3" font-size="20.8" text-anchor="middle">2511</text>
<text x="866.3" y="118.3" font-size="20.8" text-anchor="middle">3981</text>
<text x="38.3" y="119.2" font-size="34.7">D (pc)</text>
<text x="24.3" y="648.6" font-size="34.7"><tspan class="i">μ</tspan> (mag)</text>
<text transform="translate(37.3,373.4) rotate(-90)" font-size="35.3" text-anchor="middle">A<tspan font-size="24.3" dy="5.6">V</tspan><tspan dy="-5.6"> (mag)</tspan></text>
<text class="g" x="886.2" y="24.7" font-size="19.5" text-anchor="end">NGC2264_l203.1_b1.8 (1816 stars)</text>
<text class="g" x="193" y="695.9" font-size="18.8" text-anchor="middle">N</text>
<text class="g" x="162.9" y="742.2" font-size="16.8">0.42</text>
<text class="g" x="200.4" y="735.2" font-size="11.7">+0.00</text>
<text class="g" x="200.4" y="745.8" font-size="11.7">−0.00</text>
<text class="g" x="309.4" y="695.9" font-size="18.8" text-anchor="middle">f</text>
<text class="g" x="278.0" y="742.2" font-size="16.8">0.22</text>
<text class="g" x="316.6" y="735.2" font-size="11.7">+0.02</text>
<text class="g" x="316.6" y="745.8" font-size="11.7">−0.02</text>
<text class="g i" x="422.0" y="695.9" font-size="18.8" text-anchor="middle">μ<tspan font-size="13.2" dy="3.0">C</tspan></text>
<text class="g" x="389.1" y="742.2" font-size="16.8">9.33</text>
<text class="g" x="426.7" y="735.2" font-size="11.7">+0.05</text>
<text class="g" x="426.7" y="745.8" font-size="11.7">−0.03</text>
<text class="g i" x="530.4" y="695.9" font-size="18.8" text-anchor="middle">P<tspan font-size="13.2" dy="3.0">b</tspan></text>
<text class="g" x="498.5" y="742.2" font-size="16.8">0.04</text>
<text class="g" x="537.1" y="735.2" font-size="11.7">+0.01</text>
<text class="g" x="537.1" y="745.8" font-size="11.7">−0.01</text>
<text class="g i" x="658.6" y="695.9" font-size="18.8" text-anchor="middle">s<tspan font-size="13.2" dy="3.0">fore</tspan></text>
<text class="g" x="609.7" y="742.2" font-size="16.8">0.03</text>
<text class="g" x="647.6" y="735.2" font-size="11.7">+0.00</text>
<text class="g" x="647.6" y="745.8" font-size="11.7">−0.00</text>
<text class="g i" x="761.2" y="695.9" font-size="18.8" text-anchor="middle">s<tspan font-size="13.2" dy="3.0">back</tspan></text>
<text class="g" x="720.6" y="742.2" font-size="16.8">0.12</text>
<text class="g" x="758.5" y="735.2" font-size="11.7">+0.00</text>
<text class="g" x="758.5" y="745.8" font-size="11.7">−0.00</text>
<rect x="376" y="46.9" width="348" height="33.9" fill="#ffd700"/>
<path d="M547.1,80 H553.8 V113.1 H565.0 L550.4,141.4 L535.8,113.1 H547.1 Z" fill="#ffd700"/>
<text x="376.3" y="71.0" font-size="24.85" class="b">Distance</text>
<text x="507.3" y="71.0" font-size="24.6" class="b">(</text>
<text x="516.6" y="71.0" font-size="24.9" class="b">D</text>
<text x="538.4" y="75.2" font-size="17.2" class="b">C</text>
<text x="549.2" y="71.0" font-size="24.6" class="b">)</text>
<text x="569.6" y="71.0" font-size="24.4" class="b">=</text>
<text x="595.4" y="71.0" font-size="23.9" class="b">734</text>
<text x="647.9" y="60.6" font-size="16.7" class="b">+18</text>
<text x="647.9" y="77.4" font-size="16.7" class="b">−11</text>
<text x="695.0" y="71.0" font-size="24.5" class="n">pc</text>
</svg></body></html>
